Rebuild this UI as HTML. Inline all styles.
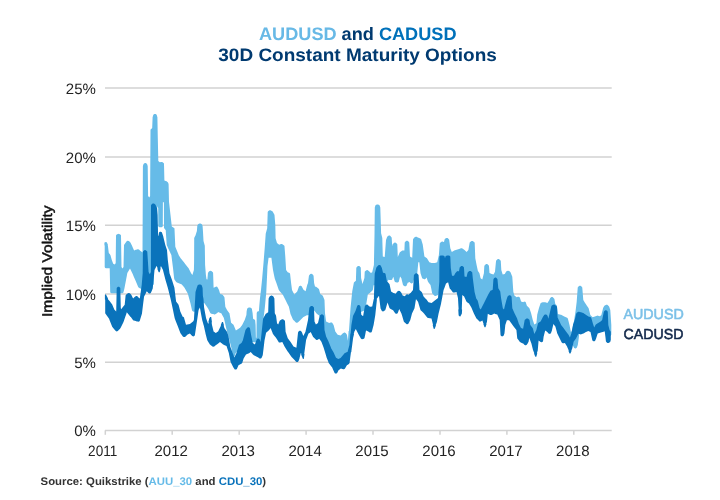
<!DOCTYPE html>
<html><head><meta charset="utf-8"><title>AUDUSD and CADUSD</title>
<style>
html,body{margin:0;padding:0;background:#fff;}
body{width:720px;height:500px;overflow:hidden;font-family:"Liberation Sans",sans-serif;}
svg{display:block;font-family:"Liberation Sans",sans-serif;will-change:transform;}
text{text-rendering:geometricPrecision;}
.g line{stroke:#d2d2d2;stroke-width:1.5;}
.ax{font-size:15px;fill:#222;}
.t{font-size:18px;font-weight:bold;}
.s{font-size:11px;font-weight:bold;fill:#333;}
.l{font-size:14.5px;font-weight:normal;stroke-width:0.55;stroke-linejoin:round;}
polygon{stroke-linejoin:round;stroke-width:0.7;}
</style></head><body>
<svg width="720" height="500" viewBox="0 0 720 500">
<rect width="720" height="500" fill="#fff"/>
<g class="g"><line x1="105" x2="611.7" y1="430.4" y2="430.4"/><line x1="105" x2="611.7" y1="362.3" y2="362.3"/><line x1="105" x2="611.7" y1="293.9" y2="293.9"/><line x1="105" x2="611.7" y1="225.3" y2="225.3"/><line x1="105" x2="611.7" y1="157.0" y2="157.0"/><line x1="105" x2="611.7" y1="87.9" y2="87.9"/><line x1="105.3" x2="105.3" y1="430.4" y2="434.8"/><line x1="172.2" x2="172.2" y1="430.4" y2="434.8"/><line x1="239.2" x2="239.2" y1="430.4" y2="434.8"/><line x1="306.1" x2="306.1" y1="430.4" y2="434.8"/><line x1="373.0" x2="373.0" y1="430.4" y2="434.8"/><line x1="440.0" x2="440.0" y1="430.4" y2="434.8"/><line x1="506.9" x2="506.9" y1="430.4" y2="434.8"/><line x1="573.8" x2="573.8" y1="430.4" y2="434.8"/></g>
<g class="ax"><text x="95.9" y="436.2" text-anchor="end">0%</text><text x="95.9" y="368.1" text-anchor="end">5%</text><text x="95.9" y="299.7" text-anchor="end">10%</text><text x="95.9" y="231.1" text-anchor="end">15%</text><text x="95.9" y="162.8" text-anchor="end">20%</text><text x="95.9" y="93.7" text-anchor="end">25%</text><text x="88.1" y="456.3" textLength="29.2" lengthAdjust="spacingAndGlyphs">2011</text><text x="171.2" y="456.3" text-anchor="middle">2012</text><text x="238.2" y="456.3" text-anchor="middle">2013</text><text x="305.1" y="456.3" text-anchor="middle">2014</text><text x="372.0" y="456.3" text-anchor="middle">2015</text><text x="439.0" y="456.3" text-anchor="middle">2016</text><text x="505.9" y="456.3" text-anchor="middle">2017</text><text x="572.8" y="456.3" text-anchor="middle">2018</text></g>
<text class="t" x="259.0" y="39.8" textLength="197.5" lengthAdjust="spacingAndGlyphs"><tspan fill="#68b9e6">AUDUSD</tspan><tspan fill="#003a70"> and </tspan><tspan fill="#0071ba">CADUSD</tspan></text>
<text class="t" x="218.3" y="61.3" textLength="278.5" lengthAdjust="spacingAndGlyphs" fill="#003a70">30D Constant Maturity Options</text>
<text style="font-weight:normal;font-size:14px;fill:#111;stroke:#111;stroke-width:0.5;stroke-linejoin:round" transform="translate(51.8,261.2) rotate(-90)" text-anchor="middle" textLength="111.5" lengthAdjust="spacingAndGlyphs">Implied Volatility</text>
<path fill="#66bbe8" fill-rule="evenodd" d="M104.8 245.5 L104.7 245.5 L104.7 245.8 L104.7 245.9 L104.7 266.7 L104.7 266.7 L104.7 267.1 L104.8 267.2 L104.9 267.5 L104.9 267.5 L105.1 267.8 L105.2 267.9 L105.5 268.1 L105.5 268.1 L105.8 268.2 L105.9 268.3 L106.3 268.3 L106.3 268.3 L109.7 268.3 L110.2 291.7 L110.2 291.8 L110.2 292.1 L110.2 292.2 L110.4 292.5 L110.4 292.6 L110.6 292.8 L110.7 292.9 L111.0 293.1 L111.0 293.1 L111.3 293.2 L111.4 293.3 L111.7 293.3 L111.8 293.3 L122.0 293.3 L122.0 293.3 L122.4 293.3 L122.4 293.2 L122.8 293.1 L122.8 293.1 L123.1 292.8 L123.2 292.8 L123.4 292.5 L123.4 292.4 L123.5 292.1 L123.5 292.1 L124.3 289.1 L124.3 289.1 L124.3 289.0 L124.3 289.0 L124.6 287.5 L127.3 273.2 L127.3 273.0 L127.8 272.3 L130.0 268.6 L132.7 274.1 L132.7 274.1 L133.7 276.5 L135.7 281.1 L135.7 281.1 L138.1 286.8 L138.1 286.8 L138.3 287.1 L138.3 287.2 L138.6 287.4 L138.7 287.5 L139.7 288.2 L139.7 288.2 L140.0 288.3 L140.0 288.3 L141.4 288.9 L142.7 289.4 L143.1 289.6 L143.7 289.8 L144.1 290.0 L144.2 290.0 L144.5 290.1 L144.6 290.1 L145.0 290.1 L145.1 290.1 L145.4 289.9 L145.5 289.9 L145.8 289.7 L145.8 289.7 L147.0 288.6 L147.6 288.0 L148.0 287.7 L149.5 286.3 L150.6 285.3 L150.6 285.3 L152.2 285.3 L152.3 285.3 L152.6 285.3 L152.7 285.2 L153.0 285.1 L153.0 285.1 L153.3 284.9 L153.4 284.8 L153.6 284.5 L153.6 284.5 L153.7 284.2 L153.8 284.1 L153.8 283.8 L153.8 283.7 L154.3 240.3 L155.2 240.3 L155.3 240.3 L155.6 240.3 L155.7 240.2 L156.0 240.1 L156.0 240.1 L156.3 239.9 L156.4 239.8 L156.6 239.5 L156.6 239.5 L156.7 239.2 L156.8 239.1 L156.8 238.8 L156.8 238.7 L157.3 206.2 L158.2 208.1 L158.2 208.1 L158.2 208.1 L158.3 225.7 L158.3 225.7 L158.3 226.1 L158.4 226.2 L158.5 226.5 L158.5 226.5 L158.7 226.8 L158.8 226.9 L159.1 227.1 L159.1 227.1 L159.4 227.2 L159.5 227.3 L159.9 227.3 L159.9 227.3 L161.2 227.3 L161.2 227.3 L161.6 227.3 L161.7 227.2 L162.0 227.1 L162.0 227.1 L162.3 226.9 L162.4 226.8 L162.6 226.5 L162.6 226.5 L162.7 226.2 L162.8 226.1 L162.8 225.7 L162.8 225.7 L162.9 202.3 L163.9 202.3 L164.0 227.5 L164.0 227.6 L164.0 227.9 L164.1 227.9 L164.2 228.2 L164.2 228.3 L164.4 228.5 L164.4 228.6 L165.6 230.0 L165.7 230.1 L165.7 230.1 L165.7 230.1 L166.7 244.8 L166.7 244.8 L166.8 245.3 L166.8 245.3 L167.4 246.6 L168.0 247.9 L168.4 248.7 L169.7 251.5 L171.2 254.7 L171.4 255.0 L171.4 255.2 L173.0 268.0 L173.0 268.0 L173.9 276.3 L174.2 278.7 L174.2 278.7 L174.3 279.1 L174.3 279.1 L174.4 279.4 L174.5 279.5 L174.8 279.9 L176.2 281.9 L176.3 281.9 L176.5 282.2 L176.6 282.2 L176.9 282.4 L176.9 282.4 L178.2 282.9 L180.7 283.9 L181.5 284.2 L181.5 284.3 L181.5 284.3 L183.1 286.1 L184.7 288.1 L184.8 288.2 L188.0 294.1 L188.0 294.2 L190.5 303.4 L190.5 303.4 L192.0 310.3 L192.1 310.3 L192.2 310.7 L192.2 310.7 L192.4 311.0 L192.5 311.1 L192.7 311.3 L192.8 311.3 L193.1 311.5 L193.2 311.5 L193.8 311.7 L193.9 311.7 L194.2 311.7 L194.2 311.7 L194.5 311.7 L194.6 311.7 L194.9 311.6 L195.0 311.6 L195.2 311.4 L195.3 311.4 L195.5 311.1 L195.6 311.1 L195.7 310.8 L195.7 310.8 L196.3 309.5 L197.5 306.7 L197.9 305.7 L198.8 303.6 L200.1 300.4 L201.3 301.2 L202.1 301.8 L202.5 302.0 L203.0 302.4 L204.3 303.2 L204.6 303.4 L204.8 303.5 L204.8 303.5 L204.8 303.5 L205.3 304.4 L205.9 305.3 L207.9 308.3 L208.0 308.4 L208.1 308.5 L210.3 312.9 L210.3 312.9 L210.5 313.2 L210.6 313.3 L210.9 313.5 L210.9 313.6 L211.3 313.7 L211.3 313.7 L212.7 314.0 L213.2 314.1 L214.4 314.4 L214.4 314.4 L214.8 314.4 L214.9 314.4 L215.2 314.3 L215.3 314.3 L215.6 314.1 L215.7 314.1 L216.9 313.2 L218.3 312.0 L218.6 312.2 L219.9 312.8 L221.5 313.5 L221.5 313.5 L221.5 313.6 L222.2 314.9 L223.9 318.0 L223.9 318.2 L224.7 321.6 L226.4 329.0 L226.4 329.0 L226.4 329.1 L226.4 329.1 L228.9 338.1 L228.9 338.1 L231.4 348.0 L231.4 348.1 L232.4 353.4 L232.4 353.4 L232.5 353.8 L232.5 353.8 L232.5 353.8 L232.4 353.8 L232.4 353.8 L232.4 353.8 L232.4 353.9 L232.3 353.9 L232.3 353.9 L232.3 353.9 L232.3 354.0 L232.3 354.0 L232.2 354.0 L232.2 354.0 L232.2 354.1 L232.2 354.1 L232.2 354.1 L232.2 354.2 L232.2 354.2 L232.2 354.2 L232.2 354.2 L232.2 354.3 L232.2 354.3 L232.2 354.3 L232.2 354.4 L232.2 354.4 L232.2 354.4 L232.7 357.1 L232.7 357.1 L232.7 357.2 L232.7 357.2 L232.7 357.2 L232.7 357.3 L232.7 357.3 L232.7 357.3 L232.7 357.3 L232.8 357.4 L232.8 357.4 L232.8 357.4 L232.8 357.4 L232.8 357.5 L232.9 357.5 L232.9 357.5 L232.9 357.5 L232.9 357.5 L233.0 357.6 L233.0 357.6 L233.0 357.6 L233.1 357.6 L233.1 357.6 L233.1 357.6 L233.2 357.6 L233.2 357.6 L233.2 357.6 L233.2 357.6 L233.3 357.6 L233.3 357.6 L233.3 357.6 L233.4 357.6 L233.4 357.6 L233.4 357.6 L233.5 357.6 L233.5 357.6 L233.5 357.6 L233.6 357.6 L233.6 357.6 L233.6 357.6 L233.6 357.6 L233.7 357.5 L233.7 357.5 L233.7 357.5 L233.7 357.5 L233.8 357.5 L233.8 357.4 L233.8 357.4 L233.8 357.4 L233.8 357.4 L233.9 357.3 L233.9 357.3 L235.2 354.9 L235.2 354.9 L235.2 354.9 L235.2 354.8 L235.2 354.8 L235.2 354.8 L235.2 354.7 L235.2 354.7 L235.2 354.7 L235.2 354.6 L235.2 354.6 L235.2 354.6 L235.2 354.6 L235.2 354.5 L235.2 354.5 L235.2 354.5 L235.2 354.4 L235.2 354.4 L235.2 354.4 L235.2 354.3 L235.2 354.3 L235.2 354.3 L235.1 354.3 L235.1 354.2 L235.1 354.2 L235.1 354.2 L235.1 354.2 L235.3 353.9 L235.3 353.9 L236.1 352.5 L236.2 352.2 L236.2 352.2 L236.2 352.2 L240.2 349.1 L245.1 345.3 L245.2 345.2 L246.8 344.5 L247.0 344.5 L247.6 344.2 L249.6 343.3 L251.6 342.5 L252.0 342.3 L252.1 342.3 L252.1 342.3 L260.8 342.3 L260.8 342.3 L261.1 342.3 L261.2 342.2 L261.5 342.1 L261.6 342.1 L261.8 341.9 L261.9 341.8 L262.1 341.6 L262.1 341.5 L262.3 341.2 L262.3 341.1 L262.4 340.8 L262.4 340.8 L263.3 320.0 L263.3 320.0 L264.8 308.1 L264.8 308.1 L264.8 308.0 L264.8 308.0 L265.3 302.7 L266.3 292.1 L266.3 292.1 L266.3 292.0 L266.3 292.0 L267.1 275.0 L267.1 275.0 L267.1 275.0 L267.1 275.0 L267.5 266.0 L267.5 266.0 L267.8 263.7 L268.3 259.9 L268.6 257.8 L271.4 257.8 L273.0 270.0 L273.0 270.0 L273.0 270.1 L273.0 270.1 L273.9 274.5 L274.7 278.3 L274.7 278.3 L274.7 278.5 L274.8 278.5 L275.0 279.2 L276.4 283.1 L278.8 289.9 L278.9 289.9 L279.1 290.3 L279.1 290.4 L281.5 293.2 L283.0 295.1 L283.1 295.2 L285.5 300.1 L285.5 300.1 L285.5 300.1 L285.5 300.1 L287.2 303.5 L288.9 306.7 L288.9 306.9 L289.4 309.0 L290.5 313.9 L290.5 314.0 L290.6 314.2 L290.6 314.2 L291.4 316.1 L292.9 319.4 L293.0 319.5 L293.2 319.8 L293.2 319.9 L294.0 320.6 L295.6 322.3 L295.6 322.3 L295.9 322.5 L296.0 322.6 L296.3 322.7 L296.3 322.7 L296.7 322.8 L296.7 322.8 L297.1 322.8 L297.2 322.7 L297.5 322.6 L297.5 322.6 L297.8 322.4 L297.8 322.4 L299.4 320.9 L300.2 320.2 L300.2 320.2 L300.2 320.2 L300.2 320.2 L303.4 317.0 L303.5 316.9 L306.8 315.3 L306.8 315.3 L306.8 315.3 L310.3 315.3 L310.3 315.3 L310.6 315.3 L310.7 315.2 L311.0 315.1 L311.1 315.1 L311.4 314.9 L311.4 314.8 L311.6 314.6 L311.6 314.6 L313.6 311.6 L314.1 310.8 L314.2 310.5 L314.5 310.8 L316.3 313.3 L316.4 313.3 L316.7 313.6 L316.7 313.7 L318.5 314.9 L319.0 315.2 L319.0 315.2 L319.0 315.2 L319.7 316.6 L321.7 320.0 L321.7 320.2 L322.2 323.0 L323.9 333.0 L323.9 333.0 L323.9 333.2 L323.9 333.2 L324.4 334.7 L325.5 338.2 L326.4 341.0 L326.4 341.0 L326.4 341.2 L326.4 341.2 L331.4 353.1 L331.4 353.1 L331.5 353.2 L331.5 353.2 L333.0 356.1 L334.6 359.0 L334.7 359.0 L334.9 359.3 L335.0 359.4 L337.3 361.5 L337.6 361.7 L337.6 361.8 L337.9 361.9 L337.9 362.0 L338.2 362.1 L338.3 362.1 L338.6 362.1 L338.7 362.1 L339.0 362.1 L339.1 362.1 L340.9 361.6 L341.4 361.4 L341.4 361.4 L341.8 361.2 L341.9 361.2 L342.2 360.9 L342.2 360.9 L343.5 359.3 L345.2 357.3 L345.3 357.2 L346.9 355.9 L347.4 355.5 L347.4 355.4 L347.7 355.2 L347.7 355.1 L347.9 354.8 L347.9 354.7 L348.6 352.7 L349.4 350.2 L349.5 350.2 L349.5 349.9 L349.5 349.9 L350.0 346.5 L350.0 346.5 L350.0 346.1 L350.0 346.1 L350.0 346.1 L350.1 346.1 L350.1 346.1 L350.1 346.1 L350.1 346.0 L350.2 346.0 L350.2 346.0 L350.2 346.0 L350.2 346.0 L350.3 346.0 L350.3 345.9 L350.3 345.9 L350.3 345.9 L350.4 345.9 L350.4 345.8 L350.4 345.8 L350.4 345.8 L350.4 345.8 L350.4 345.7 L350.4 345.7 L350.5 345.7 L350.5 345.6 L350.5 345.6 L350.5 345.6 L350.5 345.6 L351.4 338.7 L352.4 331.7 L352.4 331.7 L352.4 331.7 L352.4 331.7 L352.4 331.6 L352.4 331.6 L352.4 331.6 L352.4 331.5 L352.4 331.5 L352.4 331.5 L352.4 331.4 L352.4 331.4 L352.4 331.4 L352.3 331.4 L352.3 331.3 L352.3 331.3 L352.3 331.3 L352.3 331.2 L352.2 331.2 L352.2 331.2 L352.2 331.2 L352.2 331.2 L352.2 331.1 L352.1 331.1 L352.1 331.1 L352.1 331.1 L352.1 331.1 L352.2 330.7 L352.2 330.7 L352.3 330.1 L352.3 330.0 L356.3 318.2 L356.3 318.1 L356.4 317.9 L358.9 314.2 L360.2 312.3 L360.2 312.2 L360.2 312.2 L360.6 312.1 L360.9 311.9 L362.6 311.3 L364.4 310.6 L364.5 310.5 L364.8 310.4 L364.8 310.3 L365.1 310.1 L365.1 310.0 L365.3 309.7 L365.3 309.7 L365.4 309.4 L365.4 309.3 L367.5 296.4 L367.8 294.4 L369.3 293.3 L370.1 292.8 L370.1 292.8 L370.3 292.6 L370.3 292.6 L372.4 290.5 L372.4 290.5 L372.7 290.1 L372.7 290.1 L372.9 289.7 L372.9 289.6 L373.6 285.3 L379.6 285.3 L379.7 285.3 L380.0 285.3 L380.1 285.2 L380.4 285.1 L380.5 285.1 L380.6 285.0 L381.0 284.8 L382.2 284.1 L382.7 283.8 L385.1 282.3 L385.1 282.3 L385.1 282.3 L386.0 282.3 L386.1 282.3 L386.4 282.3 L386.4 282.2 L386.7 282.1 L386.8 282.1 L387.0 281.9 L387.1 281.9 L387.3 281.7 L387.3 281.6 L387.7 281.1 L388.6 279.8 L389.5 280.0 L390.6 280.1 L390.7 280.1 L391.0 280.1 L391.1 280.1 L391.4 280.0 L391.5 280.0 L391.8 279.8 L391.9 279.8 L392.1 279.5 L392.2 279.5 L392.3 279.2 L392.4 279.1 L393.3 276.7 L394.5 281.1 L394.5 281.1 L394.7 281.4 L394.7 281.5 L394.9 281.7 L395.0 281.8 L395.2 282.0 L395.3 282.0 L395.6 282.2 L395.7 282.2 L397.0 282.5 L397.0 282.5 L397.4 282.5 L397.4 282.5 L397.8 282.5 L397.8 282.5 L398.1 282.3 L398.2 282.3 L398.5 282.1 L398.5 282.0 L398.7 281.7 L398.8 281.7 L398.9 281.4 L398.9 281.3 L400.1 276.5 L401.4 278.3 L401.4 278.5 L402.2 281.7 L402.9 284.6 L402.9 284.6 L403.0 284.9 L403.0 285.0 L403.2 285.2 L403.3 285.3 L403.5 285.5 L403.5 285.5 L404.3 286.0 L404.3 286.1 L404.6 286.2 L404.7 286.2 L405.0 286.3 L405.1 286.3 L405.4 286.3 L405.5 286.3 L405.8 286.2 L405.9 286.2 L406.2 286.0 L406.2 285.9 L406.5 285.7 L406.5 285.6 L406.7 285.4 L406.7 285.3 L407.3 283.8 L407.7 282.7 L409.1 282.3 L409.8 282.1 L409.8 282.1 L410.1 282.5 L410.1 282.6 L410.3 282.8 L410.3 282.9 L410.6 283.1 L410.7 283.1 L411.0 283.3 L411.0 283.3 L411.4 283.4 L411.4 283.4 L411.8 283.4 L411.8 283.4 L412.2 283.3 L412.2 283.2 L412.5 283.0 L412.6 283.0 L412.8 282.7 L412.8 282.7 L413.0 282.4 L413.0 282.4 L413.6 280.7 L414.4 278.6 L415.5 278.4 L415.5 278.4 L415.9 278.3 L416.0 278.3 L416.3 278.1 L416.3 278.1 L416.6 277.8 L416.6 277.8 L416.8 277.5 L416.8 277.4 L416.9 277.0 L416.9 277.0 L418.3 262.3 L419.3 262.3 L420.5 273.2 L420.5 273.2 L420.6 273.5 L420.6 273.5 L422.0 277.8 L422.0 277.8 L422.2 278.2 L422.3 278.3 L422.5 278.5 L422.6 278.6 L422.9 278.8 L423.0 278.8 L423.9 279.1 L424.0 279.2 L424.3 279.2 L424.4 279.2 L424.7 279.2 L424.8 279.2 L425.1 279.1 L425.2 279.1 L425.5 278.9 L425.6 278.8 L425.8 278.6 L425.8 278.5 L426.6 277.4 L427.9 281.6 L428.0 281.6 L428.2 282.0 L428.2 282.1 L428.9 283.0 L430.5 285.1 L430.5 285.1 L430.5 285.1 L431.4 289.3 L432.1 293.0 L432.1 293.0 L432.3 293.4 L432.3 293.5 L432.5 293.8 L432.6 293.8 L434.2 295.5 L434.3 295.5 L434.5 295.7 L434.6 295.7 L434.9 295.9 L435.0 295.9 L435.4 295.9 L435.5 295.9 L435.8 295.9 L435.8 295.8 L437.1 295.4 L437.1 295.4 L437.4 295.3 L437.5 295.2 L437.7 295.0 L437.8 295.0 L438.0 294.7 L438.0 294.7 L439.3 292.1 L439.4 292.0 L439.5 291.8 L439.5 291.7 L439.5 291.5 L439.5 291.5 L440.3 281.9 L440.3 281.7 L442.3 277.4 L443.2 275.3 L449.9 275.3 L451.4 277.1 L451.4 277.1 L451.4 277.2 L452.4 282.7 L452.5 282.8 L452.6 283.1 L452.6 283.2 L452.8 283.4 L452.8 283.5 L453.1 283.7 L453.2 283.8 L453.5 283.9 L453.5 283.9 L453.9 284.0 L453.9 284.0 L454.3 284.0 L454.4 284.0 L454.7 283.9 L454.8 283.8 L455.0 283.7 L455.1 283.6 L455.2 283.5 L455.2 283.5 L455.2 283.5 L455.2 283.5 L456.1 282.6 L456.7 282.7 L456.8 282.7 L457.7 284.3 L457.7 284.4 L458.3 288.6 L458.3 288.6 L458.4 288.9 L458.4 289.0 L458.4 289.0 L458.4 289.0 L458.3 289.0 L458.3 289.0 L458.3 289.0 L458.3 289.1 L458.2 289.1 L458.2 289.1 L458.2 289.1 L458.2 289.2 L458.2 289.2 L458.2 289.2 L458.1 289.3 L458.1 289.3 L458.1 289.3 L458.1 289.3 L458.1 289.4 L458.1 289.4 L458.1 289.4 L458.1 289.5 L458.1 289.5 L458.1 289.5 L458.1 289.6 L458.1 289.6 L458.1 289.6 L458.4 291.6 L458.4 291.6 L458.4 291.6 L458.4 291.6 L458.4 291.7 L458.4 291.7 L458.4 291.7 L458.4 291.8 L458.4 291.8 L458.4 291.8 L458.5 291.8 L458.5 291.9 L458.5 291.9 L458.5 291.9 L458.5 291.9 L458.6 292.0 L458.6 292.0 L458.6 292.0 L458.6 292.0 L458.7 292.0 L458.7 292.0 L458.7 292.1 L458.8 292.1 L458.8 292.1 L458.8 292.1 L458.8 292.1 L458.9 292.1 L458.9 292.1 L459.1 292.1 L459.9 292.3 L459.9 292.3 L459.9 292.3 L460.0 292.3 L460.0 292.3 L460.0 292.3 L460.1 292.3 L460.1 292.3 L460.1 292.3 L460.2 292.3 L460.2 292.3 L460.2 292.3 L460.3 292.2 L460.3 292.2 L460.3 292.2 L460.3 292.2 L460.4 292.2 L460.4 292.2 L460.4 292.1 L460.5 292.1 L460.5 292.1 L460.5 292.1 L460.5 292.0 L460.5 292.0 L461.5 290.6 L461.5 290.6 L461.6 290.6 L461.6 290.6 L461.6 290.5 L461.6 290.5 L461.6 290.5 L461.6 290.4 L461.6 290.4 L461.6 290.4 L461.6 290.3 L461.6 290.3 L461.7 289.5 L461.7 289.5 L461.7 289.5 L461.7 289.5 L461.7 289.4 L461.7 289.4 L461.7 289.4 L461.7 289.3 L461.7 289.3 L461.7 289.3 L461.7 289.2 L461.7 289.2 L461.7 289.2 L461.6 289.2 L461.6 289.1 L461.6 289.1 L461.6 289.1 L461.6 289.1 L461.5 289.0 L461.5 289.0 L461.5 289.0 L461.5 289.0 L461.4 288.9 L461.4 288.9 L461.4 288.9 L461.4 288.9 L461.4 288.9 L461.5 288.6 L461.5 288.5 L462.0 283.6 L462.2 280.7 L462.7 281.1 L462.7 281.2 L462.7 281.2 L463.7 284.5 L463.7 284.5 L463.7 284.6 L463.7 284.6 L463.9 285.0 L464.6 287.2 L464.7 287.3 L464.9 287.7 L464.9 287.7 L465.3 288.3 L465.4 288.3 L465.6 288.5 L465.7 288.6 L466.0 288.7 L466.1 288.8 L466.4 288.9 L466.5 288.9 L466.8 288.8 L466.9 288.8 L467.3 288.7 L467.3 288.7 L467.6 288.5 L467.7 288.4 L467.9 288.2 L467.9 288.1 L468.2 287.8 L468.7 287.7 L468.9 287.7 L469.1 287.7 L469.8 288.0 L469.8 288.0 L469.8 288.0 L470.8 289.2 L470.8 289.2 L471.7 290.4 L471.7 290.5 L471.7 290.5 L471.9 291.4 L472.7 296.4 L472.7 296.4 L472.7 296.5 L472.7 296.5 L473.7 301.5 L473.7 301.5 L473.7 301.6 L473.7 301.6 L474.0 302.7 L474.7 305.0 L474.7 305.0 L474.7 305.1 L474.7 305.1 L475.7 307.7 L475.7 307.7 L475.8 308.0 L475.8 308.0 L476.1 308.4 L476.7 309.5 L476.7 309.5 L477.7 311.4 L477.7 311.4 L478.7 313.9 L478.7 313.9 L478.8 314.2 L478.8 314.2 L478.9 314.3 L479.2 314.7 L479.2 314.8 L479.5 315.0 L479.5 315.1 L479.8 315.2 L479.9 315.3 L480.2 315.4 L480.3 315.4 L480.7 315.4 L480.7 315.4 L481.1 315.3 L481.1 315.3 L481.4 315.1 L481.5 315.1 L481.8 314.8 L481.8 314.8 L482.2 314.3 L482.2 314.2 L482.2 314.2 L483.0 313.8 L483.7 314.1 L483.8 314.1 L484.1 314.2 L484.2 314.2 L484.5 314.1 L484.6 314.1 L484.9 314.0 L484.9 314.0 L485.2 313.8 L485.3 313.8 L485.5 313.5 L485.6 313.5 L485.7 313.2 L485.7 313.2 L486.3 311.9 L486.3 311.8 L486.3 311.7 L486.3 311.7 L487.0 309.4 L487.3 308.2 L488.3 304.8 L488.8 304.4 L489.1 304.2 L489.2 304.2 L489.3 304.1 L490.1 303.6 L490.2 303.6 L491.1 303.1 L491.2 303.1 L491.8 302.8 L492.1 302.7 L492.5 302.5 L492.5 302.5 L492.8 302.3 L492.8 302.3 L493.1 302.1 L493.1 302.0 L493.3 301.7 L493.3 301.7 L493.4 301.3 L493.4 301.3 L494.0 298.1 L494.3 296.3 L495.0 295.9 L495.2 295.9 L495.8 296.1 L495.9 296.2 L496.2 296.3 L496.7 296.7 L497.7 301.7 L497.7 301.7 L497.8 302.1 L497.8 302.1 L498.1 302.6 L498.7 304.0 L499.7 305.8 L499.7 306.0 L500.7 317.3 L500.7 317.3 L500.7 317.6 L500.7 317.6 L501.5 320.3 L501.5 320.3 L501.6 320.6 L501.7 320.7 L501.6 320.7 L501.6 320.7 L501.6 320.7 L501.6 320.8 L501.6 320.8 L501.5 320.8 L501.5 320.9 L501.5 320.9 L501.5 320.9 L501.5 320.9 L501.5 321.0 L501.5 321.0 L501.4 321.0 L501.4 321.1 L501.4 321.1 L501.4 321.1 L501.4 321.2 L501.4 321.2 L501.4 321.2 L501.4 321.3 L501.4 321.3 L501.4 321.3 L501.5 321.4 L501.5 321.4 L501.5 321.4 L501.5 321.4 L501.5 321.5 L501.5 321.5 L501.5 321.5 L501.5 321.5 L502.0 322.2 L502.5 322.9 L502.5 322.9 L502.5 322.9 L502.5 323.0 L502.5 323.0 L502.6 323.0 L502.6 323.0 L502.6 323.1 L502.6 323.1 L502.7 323.1 L502.7 323.1 L502.7 323.1 L502.8 323.1 L502.8 323.1 L502.8 323.2 L502.8 323.2 L502.9 323.2 L502.9 323.2 L502.9 323.2 L503.0 323.2 L503.0 323.2 L503.0 323.2 L503.1 323.2 L503.1 323.2 L503.1 323.2 L503.2 323.2 L503.2 323.2 L503.2 323.1 L503.3 323.1 L503.3 323.1 L503.3 323.1 L503.3 323.1 L503.4 323.1 L503.4 323.1 L504.4 322.3 L504.4 322.3 L504.4 322.3 L504.4 322.3 L504.5 322.2 L504.5 322.2 L504.5 322.2 L504.5 322.2 L504.5 322.1 L504.6 322.1 L504.6 322.1 L504.6 322.1 L504.6 322.0 L504.6 322.0 L504.6 322.0 L504.6 322.0 L504.6 321.9 L504.6 321.9 L504.8 321.1 L504.8 321.1 L504.8 321.1 L504.8 321.1 L504.8 321.0 L504.8 321.0 L504.8 321.0 L504.8 320.9 L504.8 320.9 L504.8 320.9 L504.7 320.8 L504.7 320.8 L504.7 320.8 L504.7 320.7 L504.7 320.7 L504.7 320.7 L504.7 320.7 L504.6 320.6 L504.6 320.6 L504.6 320.6 L504.6 320.6 L504.6 320.5 L504.5 320.5 L504.5 320.5 L504.5 320.5 L504.5 320.5 L504.5 320.5 L504.6 320.1 L504.6 320.1 L505.3 315.9 L505.3 315.9 L506.3 312.5 L506.3 312.5 L506.6 311.6 L507.2 309.8 L507.3 309.6 L508.2 308.5 L508.2 308.5 L508.2 308.5 L508.5 308.4 L509.0 308.1 L509.8 308.4 L509.8 308.4 L509.8 308.5 L510.1 308.8 L510.7 309.5 L510.7 309.5 L510.7 309.5 L511.7 315.8 L511.7 315.9 L511.8 316.3 L511.8 316.4 L513.7 319.8 L513.7 319.8 L513.7 319.8 L513.8 319.8 L513.9 320.1 L514.7 321.5 L514.7 321.5 L514.7 321.5 L514.7 321.5 L515.7 323.1 L515.7 323.2 L516.4 325.2 L516.7 326.2 L516.7 326.3 L517.7 330.6 L517.7 330.6 L517.8 330.9 L517.8 331.0 L518.7 332.6 L518.7 332.6 L518.8 332.7 L518.8 332.7 L518.9 333.0 L519.7 334.2 L519.7 334.3 L519.9 334.5 L519.9 334.5 L520.6 335.3 L520.6 335.3 L520.8 335.5 L520.9 335.5 L521.1 335.6 L521.1 335.7 L521.9 336.0 L521.9 336.0 L522.0 336.0 L522.3 336.1 L522.4 336.1 L522.7 336.1 L522.8 336.1 L523.1 336.0 L523.2 336.0 L523.5 335.8 L523.6 335.7 L523.8 335.5 L523.8 335.4 L524.2 335.0 L524.2 335.0 L524.3 334.7 L524.3 334.7 L525.2 332.8 L525.6 332.7 L525.6 332.7 L525.9 332.6 L526.0 332.6 L526.2 332.4 L526.3 332.4 L526.5 332.2 L526.5 332.2 L526.9 331.7 L527.1 331.4 L527.3 331.3 L527.8 331.0 L527.9 331.0 L528.1 330.8 L528.2 330.7 L528.4 330.5 L528.4 330.4 L528.9 329.6 L529.7 331.9 L529.7 331.9 L529.8 332.1 L529.8 332.1 L530.6 333.7 L530.7 334.0 L530.7 334.0 L531.7 336.2 L531.7 336.2 L532.2 337.9 L532.7 339.6 L533.5 342.5 L533.6 342.5 L533.7 342.8 L533.7 342.9 L533.9 343.1 L534.0 343.2 L534.2 343.4 L534.3 343.4 L534.6 343.6 L534.7 343.6 L535.0 343.6 L535.1 343.6 L535.4 343.6 L535.5 343.6 L535.8 343.5 L535.9 343.4 L536.1 343.2 L536.2 343.2 L536.4 342.9 L536.5 342.9 L536.6 342.6 L536.6 342.5 L537.0 341.4 L537.3 340.5 L537.3 340.4 L537.3 340.3 L537.3 340.2 L537.8 337.3 L538.3 334.3 L538.3 334.2 L539.2 332.0 L539.9 332.0 L539.9 332.0 L540.1 332.0 L540.1 332.0 L540.8 331.9 L540.8 331.9 L541.0 331.9 L541.1 331.8 L541.3 331.7 L541.4 331.7 L541.7 331.6 L541.7 331.5 L542.0 331.4 L542.0 331.3 L542.3 331.1 L542.3 331.0 L542.4 330.7 L542.5 330.7 L543.3 328.4 L543.3 328.4 L543.3 328.3 L543.3 328.3 L544.3 325.0 L544.3 325.0 L545.2 322.7 L545.8 323.0 L545.9 323.0 L546.7 323.7 L546.8 323.7 L546.8 323.7 L547.2 324.5 L547.2 324.6 L547.4 324.8 L547.4 324.9 L547.6 325.1 L547.7 325.2 L548.0 325.3 L548.1 325.3 L548.4 325.4 L548.5 325.4 L548.8 325.4 L548.9 325.4 L549.2 325.3 L549.3 325.3 L549.6 325.1 L549.6 325.1 L549.8 324.8 L549.9 324.8 L549.9 324.8 L550.1 324.5 L550.1 324.5 L550.3 324.0 L550.4 324.0 L550.6 323.0 L551.3 320.6 L551.3 320.5 L552.3 317.3 L552.3 317.3 L553.2 315.1 L553.9 314.9 L554.0 314.9 L554.7 315.6 L554.8 315.7 L555.7 316.9 L555.7 316.9 L555.7 317.0 L556.4 320.1 L556.7 321.8 L557.2 324.3 L557.7 326.6 L557.7 326.6 L557.8 326.9 L557.8 326.9 L558.7 328.9 L558.7 328.9 L558.7 328.9 L558.7 328.9 L559.7 330.9 L559.7 330.9 L559.7 331.0 L559.7 331.0 L560.6 332.6 L560.7 332.9 L560.7 332.9 L560.8 333.0 L560.8 333.0 L561.7 334.5 L561.7 334.5 L561.9 334.7 L561.9 334.7 L562.6 335.6 L562.7 335.6 L563.0 335.9 L563.1 335.9 L563.9 336.3 L564.0 336.4 L564.8 336.8 L564.8 336.8 L564.8 336.8 L565.7 338.2 L565.7 338.2 L565.8 338.2 L565.8 338.2 L566.7 339.7 L566.8 339.7 L567.7 341.4 L567.7 341.4 L568.4 342.9 L568.5 343.0 L568.6 343.2 L568.6 343.3 L568.6 343.3 L568.6 343.3 L568.6 343.3 L568.6 343.3 L568.6 343.4 L568.5 343.4 L568.5 343.4 L568.5 343.4 L568.5 343.5 L568.5 343.5 L568.5 343.5 L568.5 343.6 L568.5 343.6 L568.5 343.6 L568.5 343.7 L568.5 343.7 L568.5 343.7 L568.5 343.8 L568.5 343.8 L568.5 343.8 L568.5 343.9 L568.5 343.9 L568.5 343.9 L568.5 343.9 L568.5 344.0 L568.6 344.1 L569.4 345.9 L569.4 345.9 L569.4 346.0 L569.4 346.0 L569.5 346.0 L569.5 346.0 L569.5 346.1 L569.5 346.1 L569.5 346.1 L569.6 346.1 L569.6 346.2 L569.6 346.2 L569.6 346.2 L569.7 346.2 L569.7 346.2 L569.7 346.2 L569.8 346.3 L569.8 346.3 L569.8 346.3 L569.8 346.3 L569.9 346.3 L569.9 346.3 L569.9 346.3 L570.0 346.3 L570.0 346.3 L570.0 346.3 L570.1 346.3 L570.1 346.3 L570.1 346.3 L570.2 346.3 L570.2 346.3 L570.2 346.3 L570.3 346.2 L570.3 346.2 L570.3 346.2 L570.3 346.2 L570.4 346.2 L570.4 346.2 L570.4 346.1 L570.4 346.1 L570.5 346.1 L570.5 346.1 L570.5 346.1 L570.5 346.0 L570.5 346.0 L570.6 346.0 L570.6 346.0 L570.6 345.9 L570.6 345.9 L570.6 345.9 L571.4 343.9 L571.4 343.8 L571.4 343.8 L571.4 343.8 L571.4 343.7 L571.4 343.7 L571.4 343.7 L571.4 343.7 L571.4 343.6 L571.4 343.6 L571.4 343.6 L571.4 343.5 L571.4 343.5 L571.4 343.5 L571.4 343.4 L571.4 343.4 L571.4 343.4 L571.4 343.3 L571.3 343.3 L571.3 343.3 L571.3 343.3 L571.3 343.2 L571.3 343.2 L571.3 343.2 L571.2 343.2 L571.2 343.1 L571.2 343.1 L571.2 343.1 L571.4 342.8 L571.4 342.8 L571.9 341.2 L572.2 342.6 L572.7 344.9 L572.7 344.9 L572.8 345.3 L572.8 345.3 L573.9 347.5 L574.0 347.6 L574.1 347.9 L574.2 347.9 L574.4 348.1 L574.5 348.2 L574.8 348.3 L574.9 348.3 L575.2 348.4 L575.3 348.4 L575.6 348.4 L575.7 348.4 L576.0 348.3 L576.1 348.3 L576.3 348.1 L576.4 348.0 L576.6 347.8 L576.7 347.7 L576.8 347.5 L576.9 347.4 L577.7 345.3 L577.7 345.2 L577.8 344.9 L577.8 344.9 L578.8 338.1 L578.8 338.1 L578.8 338.0 L578.8 338.0 L580.3 323.5 L580.8 323.6 L580.8 323.6 L581.1 323.6 L581.2 323.6 L583.0 323.6 L583.0 323.6 L584.0 323.6 L584.0 323.6 L585.0 323.6 L585.0 323.6 L585.9 323.7 L586.0 323.7 L586.6 323.8 L587.0 323.8 L587.9 324.0 L588.0 324.0 L588.3 324.1 L588.9 324.3 L588.9 324.3 L589.8 324.6 L589.8 324.6 L589.8 324.6 L590.7 325.6 L590.7 325.6 L590.7 325.6 L591.7 329.6 L591.7 329.6 L591.7 329.7 L591.7 329.7 L592.7 332.7 L592.7 332.7 L592.8 333.0 L592.9 333.1 L593.1 333.3 L593.1 333.4 L593.4 333.6 L593.5 333.6 L593.8 333.7 L593.9 333.7 L594.3 333.8 L594.3 333.8 L594.7 333.7 L594.8 333.7 L595.1 333.5 L595.1 333.5 L595.4 333.2 L595.4 333.2 L595.6 332.9 L595.6 332.8 L596.3 331.4 L596.3 331.4 L597.2 329.7 L597.3 329.6 L598.2 328.6 L598.2 328.6 L598.2 328.6 L599.1 328.1 L600.1 327.6 L600.1 327.6 L600.2 327.6 L600.2 327.6 L601.1 327.1 L601.1 327.1 L601.2 327.1 L601.2 327.1 L601.8 326.7 L601.9 326.6 L601.9 326.6 L602.2 326.4 L602.2 326.3 L602.4 326.1 L602.4 326.1 L603.2 324.8 L603.2 324.8 L603.3 324.6 L603.3 324.5 L603.6 323.8 L604.2 322.2 L604.3 322.0 L604.8 321.4 L605.7 324.6 L605.7 324.7 L605.8 324.9 L605.8 324.9 L606.4 326.2 L606.7 326.7 L606.7 326.9 L607.7 333.8 L607.7 333.8 L607.8 334.3 L607.9 334.4 L608.3 335.2 L608.3 335.2 L608.5 335.5 L608.6 335.5 L608.9 335.7 L608.9 335.8 L609.2 335.9 L609.3 335.9 L609.7 336.0 L609.7 336.0 L610.1 335.9 L610.1 335.9 L610.5 335.8 L610.5 335.7 L610.8 335.5 L610.9 335.5 L611.1 335.2 L611.1 335.1 L611.2 334.8 L611.3 334.7 L611.3 334.4 L611.3 334.4 L611.3 325.0 L611.3 325.0 L611.3 324.9 L611.3 324.9 L610.3 310.2 L610.3 310.1 L610.2 309.8 L610.2 309.7 L609.1 306.6 L609.1 306.5 L608.9 306.2 L608.8 306.2 L608.6 305.9 L608.6 305.9 L607.6 305.0 L607.5 305.0 L607.3 304.8 L607.2 304.8 L606.9 304.7 L606.8 304.7 L606.5 304.7 L606.4 304.7 L606.1 304.7 L606.1 304.7 L605.8 304.9 L605.7 304.9 L604.8 305.4 L604.8 305.4 L604.5 305.6 L604.5 305.7 L604.3 306.0 L604.2 306.0 L603.1 308.1 L603.1 308.1 L603.0 308.4 L603.0 308.4 L601.4 314.8 L601.4 314.8 L601.4 314.9 L599.9 316.3 L598.0 315.7 L598.0 315.7 L597.5 315.6 L597.5 315.6 L597.0 315.7 L597.0 315.7 L594.9 316.4 L592.6 317.2 L590.3 314.9 L590.3 314.8 L590.3 314.8 L588.7 308.5 L588.7 308.4 L588.5 308.0 L588.5 308.0 L586.9 305.7 L585.3 303.2 L585.2 303.2 L583.3 299.9 L583.3 299.9 L583.3 299.9 L582.3 287.9 L582.3 287.9 L582.3 287.6 L582.3 287.5 L582.1 287.3 L582.1 287.2 L581.9 287.0 L581.9 287.0 L581.2 286.2 L581.1 286.1 L580.9 285.9 L580.8 285.9 L580.5 285.7 L580.4 285.7 L580.0 285.7 L580.0 285.7 L579.6 285.7 L579.5 285.7 L579.2 285.9 L579.1 285.9 L578.9 286.1 L578.8 286.2 L578.1 287.0 L578.1 287.0 L577.9 287.2 L577.9 287.3 L577.7 287.5 L577.7 287.6 L577.7 287.9 L577.7 287.9 L576.7 301.6 L576.7 301.7 L575.5 311.6 L575.5 311.6 L573.9 321.6 L573.9 321.6 L572.2 329.8 L572.2 330.0 L571.0 332.4 L569.5 325.0 L569.5 325.0 L569.5 324.9 L569.5 324.9 L567.9 318.8 L567.9 318.8 L567.8 318.5 L567.7 318.4 L567.5 318.1 L567.4 318.0 L567.1 317.8 L567.1 317.8 L564.3 316.4 L561.1 314.8 L561.1 314.8 L560.8 314.7 L560.8 314.7 L557.8 313.9 L557.0 306.3 L557.0 306.2 L556.9 305.9 L556.9 305.9 L556.8 305.6 L556.8 305.6 L556.6 305.3 L556.6 305.3 L555.3 304.0 L555.3 304.0 L555.3 304.0 L554.5 299.5 L554.5 299.4 L554.4 299.1 L554.4 299.0 L554.2 298.7 L554.2 298.7 L553.1 297.5 L553.1 297.5 L552.8 297.3 L552.8 297.2 L552.5 297.1 L552.4 297.0 L552.0 297.0 L551.9 297.0 L551.6 297.0 L551.5 297.0 L551.2 297.2 L551.1 297.2 L550.8 297.4 L550.8 297.4 L550.3 297.9 L550.3 298.0 L550.1 298.2 L550.1 298.2 L550.0 298.4 L550.0 298.5 L549.4 299.8 L549.4 299.9 L547.4 303.0 L545.3 302.3 L545.2 302.3 L544.8 302.2 L544.8 302.2 L542.8 302.2 L542.8 302.2 L542.5 302.2 L542.4 302.3 L542.1 302.4 L542.1 302.4 L541.2 302.8 L541.1 302.8 L540.9 303.0 L540.8 303.1 L540.6 303.3 L540.5 303.4 L540.4 303.7 L540.4 303.7 L538.9 308.2 L538.9 308.2 L538.9 308.3 L538.9 308.3 L537.2 314.8 L537.2 314.9 L537.2 315.0 L537.2 315.1 L536.4 323.2 L534.3 324.5 L532.8 319.9 L532.8 319.9 L531.1 313.3 L531.1 313.3 L531.1 313.2 L531.1 313.2 L529.5 308.5 L529.5 308.5 L529.4 308.2 L529.4 308.2 L529.2 307.9 L529.2 307.9 L526.9 305.7 L526.9 305.7 L526.9 305.7 L525.9 302.7 L525.9 302.7 L525.8 302.4 L525.8 302.3 L525.5 302.1 L525.5 302.0 L525.2 301.8 L525.1 301.8 L524.8 301.7 L524.8 301.7 L524.4 301.6 L524.4 301.6 L524.0 301.7 L524.0 301.7 L523.7 301.8 L523.6 301.9 L523.3 302.1 L523.3 302.1 L523.3 302.2 L521.1 301.4 L519.9 297.8 L519.8 297.8 L519.7 297.5 L519.7 297.4 L519.4 297.1 L519.4 297.1 L519.1 296.9 L519.0 296.9 L518.7 296.8 L518.6 296.7 L518.3 296.7 L518.2 296.7 L517.9 296.8 L517.8 296.8 L516.7 297.2 L514.4 295.6 L513.3 291.7 L513.3 291.6 L512.3 276.9 L512.3 276.8 L512.2 276.4 L512.2 276.4 L510.7 272.7 L510.7 272.7 L510.6 272.4 L510.5 272.3 L510.3 272.1 L510.3 272.1 L509.1 271.1 L509.1 271.1 L508.8 270.9 L508.7 270.9 L508.4 270.8 L508.3 270.8 L508.0 270.7 L507.9 270.8 L507.5 270.8 L507.5 270.9 L506.6 271.2 L506.6 271.2 L506.4 271.4 L506.3 271.4 L506.1 271.6 L506.0 271.7 L505.9 271.9 L505.9 271.9 L504.8 273.9 L502.7 274.6 L501.3 270.0 L501.3 269.9 L500.8 261.3 L500.8 261.3 L500.8 261.0 L500.7 260.9 L500.6 260.6 L500.6 260.5 L500.3 260.3 L500.3 260.3 L499.5 259.5 L499.4 259.4 L499.2 259.2 L499.1 259.2 L498.8 259.1 L498.7 259.1 L498.4 259.0 L498.3 259.0 L498.0 259.1 L497.9 259.1 L497.6 259.2 L497.5 259.3 L497.3 259.5 L497.2 259.5 L496.5 260.3 L496.4 260.3 L496.2 260.5 L496.2 260.6 L496.1 260.9 L496.1 260.9 L496.0 261.2 L496.0 261.3 L495.0 271.5 L495.0 271.7 L493.5 274.6 L491.8 273.9 L491.8 273.9 L491.7 273.9 L491.7 273.9 L489.5 273.1 L489.0 266.3 L489.0 266.2 L488.9 265.9 L488.9 265.9 L488.8 265.6 L488.8 265.6 L488.6 265.3 L488.6 265.3 L487.8 264.5 L487.8 264.5 L487.5 264.2 L487.5 264.2 L487.1 264.1 L487.1 264.0 L486.7 264.0 L486.6 264.0 L486.3 264.0 L486.2 264.1 L485.9 264.2 L485.8 264.2 L485.5 264.5 L485.5 264.5 L484.8 265.3 L484.7 265.3 L484.6 265.6 L484.5 265.6 L484.4 265.9 L484.4 265.9 L484.3 266.2 L484.3 266.3 L483.9 273.2 L483.9 273.3 L482.3 279.5 L480.6 278.2 L479.5 273.5 L479.5 273.4 L479.3 273.0 L479.3 273.0 L477.8 270.8 L477.8 270.6 L476.6 264.9 L475.3 258.3 L475.3 258.3 L474.7 243.1 L474.7 243.0 L474.6 242.7 L474.6 242.6 L474.4 242.3 L474.3 242.2 L474.1 241.9 L474.0 241.9 L473.1 241.2 L473.1 241.2 L472.8 241.0 L472.7 241.0 L472.4 240.9 L472.3 240.9 L472.0 240.9 L471.9 240.9 L471.6 241.0 L471.5 241.0 L471.2 241.2 L471.2 241.2 L470.2 242.0 L470.2 242.0 L470.0 242.2 L469.9 242.3 L469.7 242.5 L469.7 242.6 L469.6 242.9 L469.6 242.9 L468.4 249.8 L468.4 249.9 L468.4 249.9 L466.6 252.1 L464.5 249.9 L464.4 249.9 L464.2 249.7 L464.2 249.7 L462.4 248.4 L462.3 248.4 L462.0 248.2 L461.9 248.2 L461.5 248.2 L461.4 248.2 L461.0 248.2 L461.0 248.2 L459.1 248.9 L454.2 250.5 L454.2 250.5 L453.9 250.7 L453.9 250.7 L451.8 252.0 L450.3 248.3 L450.3 248.2 L449.2 240.1 L449.2 240.0 L449.1 239.6 L449.0 239.5 L448.8 239.2 L448.7 239.1 L448.0 238.4 L447.9 238.3 L447.7 238.1 L447.6 238.1 L447.2 238.0 L447.2 237.9 L446.8 237.9 L446.7 237.9 L446.4 238.0 L446.3 238.0 L446.0 238.2 L445.9 238.2 L445.3 238.6 L445.2 238.7 L445.0 238.9 L444.9 238.9 L444.7 239.2 L444.7 239.2 L444.6 239.5 L444.6 239.6 L444.0 242.1 L442.8 241.7 L442.8 241.6 L442.4 241.6 L442.4 241.6 L442.0 241.6 L441.9 241.6 L441.6 241.7 L441.5 241.7 L441.3 241.9 L441.2 241.9 L440.2 242.7 L440.2 242.8 L440.0 243.0 L439.9 243.1 L439.8 243.4 L439.7 243.5 L439.7 243.8 L439.7 243.9 L438.9 254.9 L438.9 255.0 L437.2 262.3 L435.0 263.0 L434.9 263.0 L431.8 263.0 L431.6 263.0 L429.4 262.3 L427.1 258.4 L427.1 258.4 L426.9 258.2 L426.8 258.1 L426.6 257.9 L426.6 257.9 L424.4 256.5 L422.8 245.0 L422.8 245.0 L422.8 244.9 L422.8 244.8 L421.3 239.7 L421.3 239.6 L421.1 239.3 L421.1 239.2 L420.8 238.9 L420.8 238.9 L420.5 238.7 L420.4 238.6 L418.5 237.7 L418.5 237.7 L416.8 236.9 L416.8 236.8 L416.5 236.7 L416.4 236.7 L416.1 236.7 L416.0 236.7 L415.7 236.7 L415.6 236.7 L415.3 236.9 L415.2 236.9 L415.0 237.1 L414.9 237.1 L413.5 238.6 L413.5 238.6 L413.3 238.9 L413.2 238.9 L413.1 239.2 L413.1 239.3 L413.0 239.6 L413.0 239.7 L412.2 257.8 L410.0 256.5 L409.3 243.0 L409.3 242.9 L409.3 242.6 L409.2 242.6 L409.1 242.3 L409.1 242.2 L408.9 242.0 L408.9 241.9 L408.2 241.2 L408.1 241.1 L407.9 240.9 L407.8 240.9 L407.5 240.7 L407.4 240.7 L407.0 240.7 L407.0 240.7 L406.6 240.7 L406.5 240.7 L406.2 240.9 L406.1 240.9 L405.9 241.1 L405.8 241.2 L405.1 241.9 L405.1 242.0 L404.9 242.2 L404.9 242.3 L404.8 242.6 L404.7 242.6 L404.7 242.9 L404.7 243.0 L404.4 250.5 L402.9 250.5 L402.8 250.5 L402.5 250.6 L402.4 250.6 L402.0 250.8 L402.0 250.8 L400.2 252.0 L400.1 252.1 L399.8 252.3 L399.8 252.4 L399.6 252.7 L399.6 252.7 L397.8 257.0 L397.3 244.7 L397.3 244.7 L397.3 244.3 L397.2 244.3 L397.1 243.9 L397.0 243.9 L396.8 243.6 L396.7 243.6 L396.0 243.0 L396.0 242.9 L395.7 242.7 L395.6 242.7 L395.3 242.6 L395.2 242.6 L394.8 242.6 L394.7 242.6 L394.4 242.7 L394.3 242.7 L394.0 242.9 L394.0 243.0 L393.1 243.7 L393.1 243.7 L392.8 244.0 L392.8 244.1 L392.6 244.5 L392.6 244.5 L392.2 246.3 L391.7 237.9 L391.7 237.9 L391.6 237.6 L391.6 237.6 L391.5 237.3 L391.4 237.2 L391.3 237.0 L391.2 237.0 L390.4 236.1 L390.4 236.0 L390.1 235.8 L390.1 235.8 L389.7 235.6 L389.7 235.6 L389.3 235.6 L389.2 235.6 L388.9 235.6 L388.8 235.6 L388.5 235.8 L388.4 235.8 L387.8 236.2 L387.7 236.2 L387.5 236.4 L387.4 236.4 L387.2 236.7 L387.2 236.7 L387.1 237.0 L387.1 237.0 L386.1 239.7 L386.1 239.8 L386.0 240.1 L386.0 240.1 L384.7 257.1 L382.8 256.4 L382.3 238.5 L382.3 238.4 L382.3 238.2 L382.3 238.1 L381.1 233.3 L381.1 233.2 L380.7 220.0 L380.7 220.0 L380.7 220.0 L380.7 220.0 L380.3 207.7 L380.3 207.6 L380.2 207.3 L380.2 207.2 L379.7 205.7 L379.7 205.7 L379.5 205.4 L379.5 205.3 L379.3 205.1 L379.2 205.0 L379.0 204.9 L378.9 204.8 L378.7 204.7 L378.6 204.7 L378.0 204.5 L377.9 204.5 L377.5 204.4 L377.5 204.4 L377.1 204.5 L377.0 204.5 L376.4 204.7 L376.4 204.7 L376.1 204.8 L376.0 204.9 L375.8 205.0 L375.7 205.1 L375.5 205.3 L375.5 205.4 L375.4 205.7 L375.3 205.7 L374.9 207.2 L374.8 207.3 L374.8 207.6 L374.8 207.7 L374.5 235.0 L373.9 264.9 L373.9 265.0 L372.2 272.3 L370.9 273.0 L369.4 271.5 L369.4 271.5 L369.3 271.4 L369.3 271.4 L368.2 270.4 L368.1 270.4 L367.8 270.2 L367.8 270.2 L367.4 270.1 L367.3 270.1 L367.0 270.1 L366.9 270.1 L366.6 270.2 L366.5 270.2 L366.2 270.4 L366.2 270.4 L365.3 271.1 L365.3 271.1 L365.0 271.4 L364.9 271.4 L364.8 271.8 L364.7 271.8 L364.7 272.2 L364.7 272.2 L364.4 277.9 L364.4 278.0 L362.5 283.9 L361.1 278.0 L361.1 277.9 L360.8 268.0 L360.8 268.0 L360.8 267.7 L360.7 267.6 L360.6 267.3 L360.5 267.2 L360.3 266.9 L360.3 266.9 L359.7 266.4 L359.7 266.3 L359.4 266.1 L359.3 266.1 L358.9 266.0 L358.8 266.0 L358.5 266.0 L358.4 266.0 L358.0 266.1 L358.0 266.1 L357.6 266.3 L357.6 266.3 L356.9 266.9 L356.9 266.9 L356.6 267.2 L356.6 267.3 L356.4 267.6 L356.4 267.7 L356.4 268.0 L356.3 268.1 L355.9 280.8 L354.4 282.0 L354.4 282.0 L354.2 282.2 L354.1 282.3 L353.9 282.5 L353.9 282.6 L353.8 282.9 L353.8 282.9 L352.2 291.6 L352.2 291.6 L352.2 291.7 L352.2 291.7 L350.5 308.2 L350.5 308.3 L350.5 308.3 L350.5 308.3 L349.4 325.0 L349.0 330.4 L349.0 330.4 L349.0 330.7 L349.0 330.8 L349.0 330.8 L349.0 330.8 L349.0 330.8 L349.0 330.8 L348.9 330.8 L348.9 330.8 L348.9 330.9 L348.8 330.9 L348.8 330.9 L348.8 330.9 L348.8 331.0 L348.8 331.0 L348.7 331.0 L348.7 331.0 L348.7 331.1 L348.7 331.1 L348.7 331.1 L348.7 331.1 L348.6 331.2 L348.6 331.2 L348.6 331.2 L348.6 331.3 L348.6 331.3 L348.6 331.3 L348.6 331.3 L347.9 340.8 L347.0 335.2 L347.0 335.2 L347.0 334.9 L346.9 334.9 L346.8 334.6 L346.8 334.6 L345.9 333.2 L345.8 333.2 L345.6 332.9 L345.5 332.9 L345.2 332.7 L345.1 332.7 L344.8 332.6 L344.7 332.6 L344.3 332.6 L344.3 332.6 L343.9 332.7 L343.9 332.7 L343.4 332.9 L343.3 333.0 L343.0 333.2 L342.9 333.2 L340.7 335.5 L337.7 334.7 L335.3 331.6 L335.3 331.6 L335.3 331.5 L333.6 325.1 L333.6 325.1 L333.5 324.7 L333.4 324.7 L332.5 323.2 L332.5 323.1 L332.2 322.9 L332.2 322.8 L331.9 322.6 L331.8 322.6 L331.5 322.5 L331.4 322.5 L331.1 322.4 L331.0 322.4 L330.7 322.5 L330.7 322.5 L329.2 323.0 L326.1 321.5 L325.0 313.3 L325.0 313.3 L324.5 300.2 L324.5 300.2 L324.4 299.7 L324.4 299.7 L322.9 296.1 L322.9 296.0 L322.7 295.7 L322.6 295.6 L322.3 295.4 L322.3 295.3 L320.3 294.0 L319.1 289.5 L319.1 289.5 L318.9 289.1 L318.9 289.0 L318.6 288.7 L318.6 288.7 L317.1 287.4 L317.0 287.4 L316.7 287.2 L316.6 287.1 L315.0 286.5 L314.1 283.0 L314.1 282.9 L313.6 276.2 L313.6 276.1 L313.5 275.8 L313.5 275.7 L313.3 275.3 L313.3 275.3 L312.5 274.4 L312.5 274.3 L312.3 274.1 L312.2 274.0 L311.9 273.9 L311.8 273.9 L311.5 273.8 L311.5 273.8 L311.1 273.8 L311.1 273.8 L310.7 273.8 L310.7 273.9 L310.4 274.0 L310.3 274.1 L310.1 274.3 L310.1 274.3 L309.2 275.3 L309.2 275.3 L309.0 275.7 L309.0 275.7 L308.9 276.1 L308.9 276.1 L308.0 282.9 L308.0 283.0 L307.3 284.8 L307.2 284.8 L307.2 285.0 L307.2 285.0 L305.6 291.2 L303.5 289.8 L303.5 289.8 L303.5 289.8 L301.8 286.6 L301.8 286.6 L301.6 286.3 L301.6 286.2 L301.3 286.0 L301.2 286.0 L300.9 285.8 L300.9 285.8 L300.5 285.8 L300.5 285.8 L300.1 285.8 L300.1 285.8 L299.7 285.9 L299.7 285.9 L299.4 286.1 L299.4 286.2 L299.3 286.2 L299.2 286.3 L299.0 286.5 L299.0 286.6 L298.8 286.9 L298.8 286.9 L297.2 291.5 L297.2 291.5 L297.2 291.6 L294.3 294.5 L292.0 290.0 L292.0 289.8 L291.1 283.0 L291.1 283.0 L290.1 274.1 L290.1 274.0 L290.0 273.7 L290.0 273.6 L289.8 273.3 L289.7 273.2 L289.5 273.0 L289.4 272.9 L289.1 272.8 L289.0 272.7 L287.7 272.3 L287.7 272.2 L287.7 272.2 L286.1 269.9 L286.1 269.9 L286.1 269.9 L285.3 256.7 L285.3 256.7 L285.3 256.7 L285.3 256.7 L284.5 246.4 L284.5 246.4 L284.5 246.1 L284.5 246.0 L284.3 245.8 L284.3 245.7 L284.1 245.5 L284.1 245.4 L283.8 245.2 L283.8 245.2 L282.4 244.3 L282.3 244.3 L282.0 244.1 L281.9 244.1 L281.5 244.0 L281.4 244.0 L281.1 244.1 L281.0 244.1 L279.2 244.7 L277.0 243.1 L275.6 238.3 L275.6 238.2 L275.3 225.0 L275.3 225.0 L275.3 224.9 L275.3 224.9 L274.5 215.2 L274.5 215.2 L274.5 215.0 L274.5 214.9 L274.4 214.7 L274.3 214.6 L272.9 211.9 L272.9 211.9 L272.7 211.6 L272.6 211.5 L272.3 211.3 L272.3 211.2 L270.9 210.4 L270.8 210.4 L270.5 210.3 L270.4 210.3 L270.0 210.2 L270.0 210.2 L269.6 210.3 L269.5 210.3 L269.2 210.5 L269.2 210.5 L268.4 211.1 L268.3 211.1 L268.1 211.3 L268.1 211.4 L267.9 211.6 L267.9 211.7 L267.7 211.9 L267.7 212.0 L267.7 212.3 L267.7 212.3 L267.2 228.2 L267.2 228.3 L265.7 233.8 L265.7 233.8 L265.7 234.1 L265.7 234.1 L264.7 248.0 L263.5 263.0 L262.2 278.0 L262.2 278.0 L261.0 290.0 L261.0 290.0 L260.0 297.9 L260.0 297.9 L260.0 298.0 L260.0 298.0 L259.3 306.0 L259.3 306.0 L259.3 306.0 L259.3 306.0 L258.9 311.2 L258.5 311.2 L258.4 311.2 L258.1 311.2 L258.1 311.3 L257.8 311.4 L257.7 311.4 L257.5 311.6 L257.4 311.6 L257.2 311.8 L257.2 311.9 L257.0 312.2 L257.0 312.2 L256.8 312.7 L256.8 312.7 L256.7 313.2 L256.7 313.2 L256.5 337.7 L255.9 337.7 L255.6 325.0 L255.6 325.0 L255.6 324.9 L255.6 324.9 L255.2 320.7 L255.2 320.6 L255.1 320.3 L255.1 320.3 L254.9 320.0 L254.9 319.9 L254.7 319.7 L254.6 319.6 L254.3 319.4 L254.3 319.4 L253.1 318.8 L252.6 313.0 L252.6 313.0 L252.6 312.9 L252.6 312.9 L251.9 309.1 L251.9 309.1 L251.8 308.8 L251.8 308.7 L251.6 308.4 L251.6 308.4 L251.4 308.2 L251.3 308.1 L251.1 308.0 L251.0 307.9 L250.2 307.5 L250.2 307.5 L249.9 307.4 L249.8 307.4 L249.5 307.4 L249.5 307.4 L249.2 307.4 L249.1 307.4 L248.8 307.5 L248.8 307.5 L247.9 307.9 L247.9 308.0 L247.7 308.1 L247.6 308.2 L247.4 308.4 L247.4 308.4 L247.2 308.7 L247.2 308.8 L247.1 309.0 L247.1 309.1 L246.6 311.6 L246.6 311.6 L246.6 311.7 L246.6 311.8 L246.4 314.9 L246.4 315.0 L244.7 319.9 L244.7 319.9 L242.3 324.8 L242.2 324.9 L239.9 328.0 L239.7 328.1 L235.9 330.4 L233.7 325.2 L233.7 325.1 L233.5 324.9 L233.5 324.8 L233.3 324.6 L233.2 324.6 L231.1 322.8 L229.5 313.6 L229.5 313.5 L229.5 313.2 L229.4 313.2 L229.3 312.9 L229.2 312.9 L227.0 309.9 L226.9 309.8 L225.3 306.7 L225.3 306.5 L224.5 297.8 L224.5 297.8 L224.5 297.5 L224.4 297.4 L224.3 297.1 L224.3 297.1 L223.0 295.2 L223.0 295.2 L222.8 295.0 L222.7 294.9 L222.5 294.7 L222.5 294.7 L222.2 294.6 L222.2 294.6 L220.2 294.0 L219.0 290.0 L219.0 290.0 L218.9 289.8 L218.9 289.7 L217.7 287.4 L217.6 287.4 L217.4 287.1 L217.4 287.1 L217.1 286.8 L217.0 286.8 L216.7 286.7 L216.6 286.6 L216.2 286.6 L216.1 286.6 L215.8 286.7 L215.7 286.7 L215.4 286.9 L215.3 286.9 L214.9 287.2 L214.8 287.3 L213.6 287.8 L213.1 273.1 L213.1 273.1 L213.0 272.7 L213.0 272.6 L212.8 272.3 L212.8 272.2 L212.5 271.9 L212.5 271.9 L211.4 271.1 L211.4 271.1 L211.1 270.9 L211.0 270.9 L210.7 270.8 L210.7 270.8 L210.3 270.8 L210.3 270.8 L210.0 270.9 L209.9 270.9 L209.6 271.1 L209.6 271.1 L209.2 271.3 L209.2 271.4 L208.9 271.6 L208.8 271.7 L208.2 272.5 L208.2 272.5 L208.0 272.9 L208.0 273.0 L207.9 273.3 L207.9 273.4 L207.4 279.6 L206.5 279.3 L205.9 275.0 L205.9 275.0 L205.1 265.0 L205.1 265.0 L204.8 246.2 L204.8 246.1 L204.8 245.8 L204.8 245.8 L203.5 241.0 L203.5 240.9 L203.0 232.0 L203.0 232.0 L203.0 232.0 L203.0 232.0 L202.6 226.2 L202.6 226.2 L202.5 225.7 L202.5 225.7 L202.0 224.6 L202.0 224.6 L201.8 224.3 L201.7 224.2 L201.4 224.0 L201.4 223.9 L201.0 223.8 L201.0 223.7 L200.4 223.6 L200.4 223.6 L200.0 223.5 L200.0 223.5 L199.6 223.6 L199.6 223.6 L198.9 223.8 L198.9 223.8 L198.6 223.9 L198.5 223.9 L198.3 224.1 L198.2 224.2 L198.0 224.4 L198.0 224.4 L197.6 225.0 L197.5 225.1 L197.4 225.4 L197.4 225.5 L197.3 225.8 L197.3 225.8 L196.9 230.9 L196.9 231.0 L195.7 234.8 L195.7 234.9 L194.4 237.6 L194.4 237.6 L194.3 237.9 L194.2 238.0 L194.2 238.3 L194.2 238.3 L194.1 262.0 L194.1 262.0 L193.9 269.9 L193.9 270.0 L192.4 275.1 L191.1 273.2 L191.0 273.1 L188.6 268.3 L188.6 268.3 L188.5 268.0 L188.4 268.0 L185.2 264.0 L185.2 264.0 L183.6 261.8 L183.5 261.8 L183.5 261.8 L183.5 261.8 L181.1 258.8 L181.0 258.8 L178.6 254.9 L178.6 254.8 L175.3 246.7 L175.3 246.6 L174.5 229.0 L174.5 229.0 L174.5 228.6 L174.5 228.6 L174.3 228.3 L174.3 228.2 L174.1 228.0 L174.0 227.9 L173.8 227.7 L173.7 227.7 L171.8 226.5 L170.3 213.3 L169.0 201.7 L169.0 201.7 L168.6 184.2 L168.6 184.2 L168.5 183.7 L168.5 183.7 L168.1 182.8 L168.1 182.7 L167.9 182.4 L167.8 182.3 L167.5 182.0 L167.5 182.0 L166.1 181.1 L166.1 181.1 L165.7 181.0 L165.7 181.0 L164.4 180.6 L164.0 164.0 L164.0 164.0 L164.0 163.7 L163.9 163.6 L163.8 163.3 L163.8 163.2 L163.6 163.0 L163.5 162.9 L163.2 162.7 L163.2 162.7 L162.2 162.1 L162.2 162.1 L161.8 162.0 L161.7 162.0 L161.3 162.0 L161.2 162.0 L159.8 162.2 L158.3 160.9 L157.8 138.0 L157.4 117.5 L157.4 117.4 L157.4 117.1 L157.3 117.1 L156.9 115.4 L156.9 115.4 L156.7 115.0 L156.7 114.9 L156.4 114.6 L156.4 114.6 L156.0 114.3 L156.0 114.3 L155.7 114.1 L155.6 114.1 L155.3 114.0 L155.2 114.0 L154.8 114.0 L154.7 114.0 L154.4 114.1 L154.3 114.1 L154.0 114.3 L154.0 114.3 L153.6 114.6 L153.6 114.6 L153.3 114.9 L153.3 115.0 L153.1 115.4 L153.1 115.4 L152.7 117.1 L152.6 117.1 L152.6 117.4 L152.6 117.4 L152.2 128.1 L151.2 128.9 L151.1 128.9 L150.9 129.1 L150.9 129.2 L150.7 129.4 L150.7 129.5 L150.6 129.8 L150.5 129.8 L150.5 130.1 L150.5 130.2 L150.1 195.9 L150.1 195.9 L150.1 195.9 L149.3 197.4 L148.1 195.9 L148.1 195.9 L148.1 195.9 L147.7 166.2 L147.7 166.1 L147.6 165.8 L147.6 165.7 L147.2 164.4 L147.2 164.4 L147.1 164.1 L147.0 164.0 L146.8 163.8 L146.8 163.7 L146.5 163.5 L146.5 163.5 L146.1 163.3 L146.0 163.2 L145.7 163.1 L145.7 163.1 L145.3 163.1 L145.3 163.1 L144.9 163.1 L144.9 163.1 L144.6 163.2 L144.5 163.3 L144.1 163.5 L144.1 163.5 L143.8 163.7 L143.8 163.8 L143.6 164.0 L143.5 164.1 L143.4 164.4 L143.4 164.4 L143.0 165.7 L143.0 165.8 L142.9 166.1 L142.9 166.2 L142.5 252.4 L141.7 251.8 L141.7 251.8 L141.6 251.7 L141.6 251.7 L140.2 250.8 L140.2 250.7 L139.2 249.8 L139.2 249.8 L138.9 249.6 L138.9 249.5 L138.6 249.4 L138.5 249.4 L138.2 249.3 L138.1 249.3 L137.8 249.3 L137.8 249.3 L136.1 249.7 L136.1 249.7 L135.7 249.8 L135.7 249.8 L134.1 250.6 L132.3 246.4 L132.3 246.4 L132.3 246.3 L132.3 246.3 L130.4 242.6 L130.4 242.6 L130.2 242.4 L130.2 242.3 L130.0 242.1 L130.0 242.1 L128.8 241.1 L128.7 241.1 L128.4 240.9 L128.4 240.9 L128.0 240.8 L127.9 240.8 L127.6 240.8 L127.5 240.8 L127.2 240.9 L127.1 240.9 L126.8 241.1 L126.7 241.2 L126.5 241.4 L126.5 241.4 L124.3 244.5 L124.3 244.5 L124.1 244.9 L124.1 245.0 L124.0 245.3 L124.0 245.4 L123.5 266.9 L123.5 266.9 L123.5 266.9 L122.5 268.4 L121.5 266.9 L121.5 266.9 L121.5 266.9 L121.0 235.8 L121.0 235.8 L121.0 235.4 L120.9 235.3 L120.8 235.0 L120.7 234.9 L120.5 234.7 L120.4 234.6 L120.1 234.4 L120.1 234.4 L119.2 234.0 L119.1 234.0 L118.8 233.9 L118.7 233.8 L118.3 233.8 L118.2 233.9 L117.9 234.0 L117.8 234.0 L116.9 234.4 L116.9 234.4 L116.6 234.6 L116.5 234.7 L116.3 234.9 L116.2 235.0 L116.1 235.3 L116.1 235.4 L116.0 235.8 L116.0 235.8 L115.7 262.9 L115.7 262.9 L115.7 262.9 L114.9 264.6 L113.2 263.8 L111.8 259.9 L111.8 259.9 L110.4 255.1 L110.3 255.1 L110.1 254.7 L110.1 254.6 L108.8 252.9 L108.8 252.9 L108.8 252.9 L107.9 245.7 L107.9 245.6 L107.8 245.3 L107.8 245.3 L107.6 245.0 L107.7 245.0 L107.7 245.0 L107.7 244.9 L107.7 244.9 L107.7 244.9 L107.8 244.9 L107.8 244.8 L107.8 244.8 L107.8 244.8 L107.8 244.8 L107.8 244.7 L107.8 244.7 L107.8 244.7 L107.8 244.6 L107.9 244.6 L107.9 244.6 L107.9 244.5 L107.9 244.5 L107.9 244.5 L107.9 244.4 L107.9 244.4 L107.8 244.4 L107.8 244.3 L107.8 244.3 L107.8 244.3 L107.8 244.3 L107.8 244.2 L107.8 244.2 L107.8 244.2 L106.6 242.2 L106.5 242.2 L106.5 242.1 L106.5 242.1 L106.5 242.1 L106.5 242.1 L106.4 242.0 L106.4 242.0 L106.4 242.0 L106.4 242.0 L106.3 241.9 L106.3 241.9 L106.3 241.9 L106.3 241.9 L106.2 241.9 L106.2 241.9 L106.2 241.9 L106.1 241.9 L106.1 241.9 L106.1 241.9 L106.0 241.9 L106.0 241.9 L106.0 241.9 L105.9 241.9 L105.9 241.9 L105.9 241.9 L105.8 241.9 L105.8 241.9 L105.8 241.9 L105.8 241.9 L105.7 241.9 L105.7 241.9 L104.7 242.4 L104.7 242.4 L104.7 242.4 L104.6 242.5 L104.6 242.5 L104.6 242.5 L104.6 242.5 L104.5 242.5 L104.5 242.6 L104.5 242.6 L104.5 242.6 L104.5 242.6 L104.4 242.7 L104.4 242.7 L104.4 242.7 L104.4 242.8 L104.4 242.8 L104.4 242.8 L104.4 242.9 L104.4 242.9 L104.4 242.9 L104.4 242.9 L104.4 243.0 L104.4 243.0 L104.4 244.9 L104.4 244.9 L104.4 244.9 L104.4 245.0 L104.4 245.0 L104.4 245.0 L104.4 245.1 L104.4 245.1 L104.4 245.1 L104.4 245.1 L104.4 245.2 L104.4 245.2 L104.4 245.2 L104.5 245.2 L104.5 245.3 L104.5 245.3 L104.5 245.3 L104.5 245.3 L104.6 245.4 L104.6 245.4 L104.6 245.4 L104.6 245.4 L104.7 245.4 L104.7 245.5 L104.7 245.5 L104.8 245.5Z"/>
<path fill="#0a73bb" fill-rule="evenodd" d="M105.3 299.8 L105.3 299.8 L105.2 300.2 L105.2 300.2 L105.2 312.9 L105.2 312.9 L105.3 313.3 L105.3 313.4 L105.5 313.8 L105.5 313.8 L107.3 316.2 L108.9 318.4 L109.0 318.5 L109.7 320.4 L111.7 325.5 L112.1 326.6 L112.2 326.7 L112.4 327.0 L112.4 327.1 L114.0 328.9 L115.5 330.8 L115.6 330.8 L115.8 331.1 L115.9 331.1 L116.2 331.3 L116.3 331.3 L116.7 331.4 L116.8 331.4 L117.1 331.3 L117.2 331.3 L117.5 331.2 L117.6 331.1 L117.9 330.9 L117.9 330.9 L118.7 330.1 L120.1 328.7 L120.1 328.6 L120.3 328.3 L120.4 328.3 L121.3 326.4 L123.5 321.9 L123.5 321.9 L123.6 321.7 L123.6 321.7 L125.3 316.8 L126.3 313.9 L126.8 312.3 L128.8 314.7 L130.6 316.9 L130.6 316.9 L130.8 317.1 L132.8 319.8 L132.8 319.8 L132.8 319.9 L133.1 320.2 L133.2 320.2 L133.6 320.4 L133.6 320.4 L134.9 320.8 L136.9 321.4 L137.9 321.6 L137.9 321.6 L138.3 321.7 L138.3 321.7 L138.7 321.7 L138.7 321.6 L139.1 321.5 L139.1 321.5 L139.4 321.3 L139.5 321.2 L139.7 321.0 L139.7 320.9 L139.8 320.6 L139.9 320.6 L140.3 319.1 L142.0 313.5 L142.0 313.5 L142.0 313.3 L142.0 313.2 L142.3 310.8 L143.3 302.5 L143.5 300.9 L144.0 296.9 L144.0 296.7 L145.3 294.3 L146.8 291.3 L146.8 291.3 L148.1 292.7 L148.4 293.0 L148.4 293.0 L148.7 293.2 L148.8 293.3 L149.0 293.4 L149.1 293.4 L149.4 293.5 L149.5 293.5 L149.8 293.5 L149.9 293.5 L150.2 293.4 L150.3 293.3 L150.5 293.2 L150.6 293.1 L150.8 292.9 L150.9 292.8 L151.0 292.5 L151.0 292.5 L151.5 291.5 L151.6 291.2 L152.7 288.6 L152.7 288.6 L152.8 288.2 L152.8 288.1 L153.6 279.7 L154.5 270.2 L154.5 270.0 L156.7 265.8 L157.0 266.7 L157.4 267.8 L157.4 267.8 L157.6 268.1 L157.6 268.2 L157.6 268.2 L157.6 268.2 L157.6 268.2 L157.6 268.2 L157.5 268.3 L157.5 268.3 L157.5 268.3 L157.5 268.3 L157.5 268.4 L157.5 268.4 L157.4 268.4 L157.4 268.5 L157.4 268.5 L157.4 268.5 L157.4 268.5 L157.4 268.6 L157.4 268.6 L157.4 268.6 L157.4 268.7 L157.4 268.7 L157.4 268.7 L157.4 268.8 L157.4 268.8 L157.4 268.8 L157.4 268.9 L157.4 268.9 L158.2 270.9 L158.6 271.9 L158.6 271.9 L158.6 272.0 L158.6 272.0 L158.6 272.0 L158.7 272.1 L158.7 272.1 L158.7 272.1 L158.7 272.1 L158.7 272.2 L158.8 272.2 L158.8 272.2 L158.8 272.2 L158.8 272.2 L158.9 272.3 L158.9 272.3 L158.9 272.3 L158.9 272.3 L159.0 272.3 L159.0 272.3 L159.0 272.3 L159.1 272.3 L159.1 272.3 L159.1 272.3 L159.2 272.3 L159.2 272.3 L159.2 272.3 L159.3 272.3 L159.3 272.3 L159.3 272.3 L159.4 272.3 L159.4 272.3 L159.4 272.3 L159.4 272.3 L159.5 272.3 L159.5 272.3 L159.5 272.3 L159.6 272.2 L159.6 272.2 L159.6 272.2 L159.6 272.2 L159.7 272.2 L159.7 272.1 L159.7 272.1 L159.7 272.1 L159.7 272.1 L159.8 272.0 L159.8 272.0 L159.8 272.0 L159.8 272.0 L159.8 271.9 L159.8 271.9 L159.8 271.9 L159.8 271.9 L159.9 271.4 L160.6 268.7 L160.6 268.7 L160.6 268.6 L160.6 268.6 L160.6 268.6 L160.6 268.5 L160.6 268.5 L160.6 268.5 L160.6 268.4 L160.6 268.4 L160.6 268.4 L160.6 268.3 L160.6 268.3 L160.6 268.3 L160.6 268.3 L160.5 268.2 L160.5 268.2 L160.5 268.2 L160.5 268.2 L160.5 268.1 L160.5 268.1 L160.4 268.1 L160.4 268.1 L160.4 268.0 L160.4 268.0 L160.3 268.0 L160.3 268.0 L160.4 268.0 L160.5 267.7 L160.5 267.6 L160.6 267.2 L160.9 265.9 L163.0 270.1 L163.0 270.2 L165.5 280.0 L165.5 280.0 L165.5 280.1 L165.5 280.1 L166.4 283.1 L167.2 285.7 L168.0 288.4 L168.0 288.4 L170.5 298.4 L170.5 298.4 L171.4 302.6 L173.0 310.1 L173.9 314.5 L174.7 318.3 L174.7 318.3 L174.8 318.5 L174.8 318.5 L175.5 320.4 L178.0 326.8 L178.0 326.8 L179.7 331.3 L180.5 333.2 L180.5 333.3 L180.6 333.6 L180.7 333.6 L182.3 335.8 L182.7 336.3 L182.7 336.4 L182.9 336.6 L183.0 336.6 L183.2 336.8 L183.3 336.8 L183.6 336.9 L183.6 337.0 L183.9 337.0 L184.0 337.0 L184.5 337.0 L184.5 337.0 L184.8 337.0 L184.9 336.9 L185.2 336.8 L185.3 336.8 L185.6 336.6 L185.6 336.5 L187.6 334.5 L187.7 334.5 L187.7 334.5 L189.9 333.6 L192.2 335.9 L192.2 335.9 L192.5 336.1 L192.6 336.2 L192.9 336.3 L193.0 336.3 L193.3 336.4 L193.4 336.4 L193.8 336.3 L193.8 336.3 L194.2 336.1 L194.2 336.1 L194.5 335.8 L194.5 335.8 L194.7 335.5 L194.8 335.4 L194.9 335.0 L194.9 335.0 L196.1 327.0 L196.1 327.0 L196.1 327.0 L196.1 327.0 L197.3 318.9 L198.3 312.1 L198.6 310.2 L198.6 310.0 L199.9 307.6 L201.1 314.2 L202.0 319.0 L202.2 320.0 L202.2 320.0 L202.2 320.1 L202.2 320.1 L202.3 320.4 L202.9 322.6 L203.5 324.7 L203.9 326.1 L203.9 326.1 L204.7 329.7 L205.5 333.3 L205.5 333.3 L205.5 333.4 L205.5 333.4 L207.2 339.9 L207.2 339.9 L207.3 340.3 L207.3 340.3 L208.0 341.5 L209.6 344.1 L209.6 344.2 L210.0 344.6 L210.0 344.6 L210.5 345.0 L211.5 345.7 L212.3 346.4 L212.4 346.4 L212.7 346.5 L212.7 346.6 L213.1 346.7 L213.1 346.7 L213.5 346.7 L213.5 346.7 L213.9 346.6 L213.9 346.5 L214.2 346.4 L214.3 346.4 L216.0 345.1 L216.9 344.4 L216.9 344.4 L216.9 344.4 L216.9 344.4 L218.5 343.2 L220.0 342.1 L220.6 342.5 L222.3 343.8 L223.0 344.4 L223.0 344.4 L223.3 344.5 L223.3 344.5 L224.1 344.9 L226.5 346.0 L228.9 353.3 L228.9 353.4 L230.5 361.6 L230.5 361.6 L230.6 362.0 L230.6 362.0 L233.0 366.8 L233.0 366.8 L233.1 366.9 L233.1 366.9 L233.9 368.3 L234.2 368.8 L234.3 368.8 L234.5 369.1 L234.5 369.2 L234.8 369.4 L234.9 369.4 L235.2 369.5 L235.3 369.5 L235.7 369.6 L235.8 369.6 L236.1 369.5 L236.2 369.5 L236.5 369.3 L236.6 369.3 L236.8 369.0 L236.9 368.9 L237.1 368.6 L237.1 368.6 L238.5 365.2 L241.3 363.8 L241.4 363.8 L241.7 363.6 L241.7 363.5 L241.9 363.3 L242.0 363.2 L242.1 362.9 L242.2 362.9 L243.6 358.5 L243.6 358.4 L246.0 354.4 L248.3 353.6 L248.3 353.6 L248.6 353.5 L248.6 353.5 L249.4 353.0 L250.7 352.1 L252.3 353.8 L252.9 354.5 L253.0 354.6 L253.3 354.8 L253.4 354.9 L254.9 355.7 L257.3 356.9 L257.4 357.0 L259.0 358.1 L259.3 358.3 L259.3 358.4 L259.6 358.5 L259.7 358.5 L260.0 358.6 L260.1 358.6 L260.4 358.6 L260.5 358.6 L260.8 358.5 L260.9 358.5 L261.2 358.3 L261.2 358.3 L261.5 358.0 L261.5 358.0 L261.7 357.7 L261.7 357.6 L262.3 356.3 L262.7 355.3 L262.7 355.2 L262.8 354.9 L262.8 354.8 L263.6 348.2 L264.5 340.6 L264.5 340.5 L266.1 332.7 L268.4 330.8 L268.4 330.8 L268.6 330.6 L268.6 330.6 L268.7 330.5 L269.1 330.0 L270.2 328.7 L270.7 328.1 L271.2 329.4 L272.7 333.3 L272.9 333.9 L273.0 334.0 L273.2 334.3 L273.2 334.3 L273.9 335.2 L274.3 335.7 L275.6 337.3 L276.4 338.4 L276.5 338.5 L278.0 341.1 L278.5 341.8 L278.5 341.9 L278.7 342.1 L278.7 342.2 L279.0 342.4 L279.1 342.4 L279.4 342.5 L279.4 342.6 L279.8 342.6 L279.8 342.6 L280.2 342.6 L280.2 342.6 L282.3 342.0 L284.7 346.8 L284.7 346.8 L284.8 346.9 L284.8 346.9 L285.0 347.3 L287.2 350.7 L288.0 351.9 L288.0 351.9 L288.1 351.9 L288.1 351.9 L291.4 356.8 L291.4 356.8 L291.6 357.0 L291.6 357.0 L294.8 360.2 L294.8 360.2 L295.8 361.5 L295.8 361.5 L296.1 361.7 L296.2 361.8 L296.5 361.9 L296.5 361.9 L296.9 362.0 L296.9 362.0 L297.3 362.0 L297.4 362.0 L297.7 361.9 L297.8 361.9 L298.0 361.7 L298.1 361.6 L298.3 361.4 L298.4 361.3 L298.5 361.0 L298.6 361.0 L298.6 360.9 L299.5 358.5 L299.5 358.5 L299.5 358.3 L299.5 358.3 L300.9 352.7 L301.2 353.6 L301.2 353.7 L301.4 354.0 L301.4 354.0 L301.4 354.0 L301.4 354.0 L301.3 354.0 L301.3 354.1 L301.3 354.1 L301.3 354.1 L301.3 354.1 L301.3 354.2 L301.2 354.2 L301.2 354.2 L301.2 354.3 L301.2 354.3 L301.2 354.3 L301.2 354.3 L301.2 354.4 L301.2 354.4 L301.2 354.4 L301.2 354.5 L301.2 354.5 L301.2 354.5 L301.2 354.6 L301.2 354.6 L301.2 354.6 L301.2 354.7 L301.2 354.7 L302.7 358.5 L302.7 358.5 L302.7 358.6 L302.7 358.6 L302.7 358.6 L302.8 358.7 L302.8 358.7 L302.8 358.7 L302.8 358.7 L302.8 358.8 L302.9 358.8 L302.9 358.8 L302.9 358.8 L302.9 358.8 L303.0 358.9 L303.0 358.9 L303.0 358.9 L303.0 358.9 L303.1 358.9 L303.1 358.9 L303.1 358.9 L303.2 358.9 L303.2 358.9 L303.2 358.9 L303.3 358.9 L303.3 358.9 L303.3 358.9 L303.4 358.9 L303.4 358.9 L303.4 358.9 L303.5 358.9 L303.5 358.9 L303.5 358.9 L303.5 358.9 L303.6 358.9 L303.6 358.9 L303.6 358.9 L303.7 358.8 L303.7 358.8 L303.7 358.8 L303.7 358.8 L303.8 358.8 L303.8 358.7 L303.8 358.7 L303.8 358.7 L303.8 358.7 L303.9 358.6 L303.9 358.6 L303.9 358.6 L303.9 358.6 L303.9 358.5 L303.9 358.5 L303.9 358.5 L303.9 358.4 L303.9 358.4 L303.9 358.4 L304.5 354.3 L304.5 354.3 L304.5 354.3 L304.5 354.2 L304.5 354.2 L304.5 354.2 L304.5 354.1 L304.5 354.1 L304.5 354.1 L304.5 354.0 L304.5 354.0 L304.5 354.0 L304.4 353.9 L304.4 353.9 L304.4 353.9 L304.4 353.9 L304.4 353.8 L304.4 353.8 L304.3 353.8 L304.3 353.8 L304.3 353.7 L304.3 353.7 L304.2 353.7 L304.2 353.7 L304.2 353.7 L304.2 353.7 L304.2 353.6 L304.3 353.3 L304.3 353.3 L304.5 351.7 L306.1 340.1 L306.1 340.0 L308.5 333.5 L308.5 333.5 L308.6 333.5 L309.9 332.7 L310.7 332.1 L312.9 336.6 L313.0 336.7 L313.2 337.0 L313.2 337.1 L313.5 337.3 L314.0 337.8 L315.6 339.3 L315.7 339.5 L315.8 339.5 L316.0 339.7 L316.1 339.8 L316.5 339.9 L316.5 339.9 L316.9 339.9 L317.0 339.9 L317.3 339.9 L317.4 339.8 L317.7 339.7 L317.7 339.7 L318.5 339.2 L319.1 338.7 L319.8 339.6 L321.4 341.8 L321.5 341.9 L321.7 342.6 L323.4 347.1 L323.9 348.4 L323.9 348.4 L325.5 353.8 L326.4 356.7 L326.4 356.8 L326.4 356.8 L326.4 356.9 L328.0 361.0 L328.8 363.2 L328.9 363.3 L329.1 363.6 L329.1 363.6 L330.6 365.5 L332.2 367.6 L332.3 367.7 L333.0 369.4 L334.4 372.6 L334.4 372.6 L334.6 372.9 L334.6 373.0 L334.9 373.2 L334.9 373.2 L335.2 373.4 L335.3 373.4 L335.6 373.5 L335.7 373.5 L336.0 373.5 L336.1 373.5 L336.4 373.5 L336.5 373.4 L336.8 373.3 L336.8 373.2 L337.1 373.0 L337.1 373.0 L337.3 372.7 L337.3 372.7 L338.5 370.2 L338.5 370.2 L338.6 370.2 L340.9 368.6 L343.2 369.2 L343.2 369.2 L343.5 369.3 L343.6 369.3 L344.0 369.2 L344.0 369.2 L344.3 369.1 L344.4 369.1 L344.7 368.9 L344.7 368.8 L344.9 368.5 L345.0 368.5 L345.3 368.0 L346.9 365.2 L346.9 365.2 L346.9 365.2 L348.5 364.2 L348.9 363.9 L348.9 363.9 L349.2 363.6 L349.2 363.5 L349.4 363.2 L349.5 363.2 L349.6 362.8 L349.6 362.8 L350.3 357.2 L350.9 352.7 L350.9 352.7 L350.9 352.4 L350.9 352.3 L350.9 352.3 L350.9 352.3 L350.9 352.3 L351.0 352.3 L351.0 352.3 L351.0 352.3 L351.1 352.2 L351.1 352.2 L351.1 352.2 L351.1 352.2 L351.2 352.2 L351.2 352.1 L351.2 352.1 L351.2 352.1 L351.2 352.1 L351.3 352.0 L351.3 352.0 L351.3 352.0 L351.3 352.0 L351.3 351.9 L351.3 351.9 L351.3 351.9 L351.3 351.8 L351.4 351.8 L351.4 351.8 L351.4 351.1 L352.3 344.2 L353.1 338.1 L353.9 334.8 L354.0 334.6 L354.0 334.6 L354.0 334.6 L354.0 334.5 L354.0 334.5 L354.0 334.5 L354.0 334.4 L354.0 334.4 L354.0 334.4 L354.0 334.3 L354.0 334.3 L354.0 334.3 L354.0 334.3 L353.9 334.2 L353.9 334.2 L353.9 334.2 L353.9 334.1 L353.9 334.1 L353.9 334.1 L353.8 334.1 L353.8 334.0 L353.8 334.0 L353.8 334.0 L353.8 334.0 L353.7 333.9 L353.7 333.9 L353.7 333.9 L353.9 333.6 L353.9 333.6 L354.3 331.9 L354.3 331.8 L355.8 329.0 L357.2 331.8 L358.2 333.8 L358.9 335.1 L358.9 335.1 L359.0 335.2 L359.0 335.2 L359.9 336.8 L360.7 338.2 L360.9 338.4 L360.9 338.5 L361.1 338.7 L361.2 338.8 L361.5 339.0 L361.6 339.0 L361.9 339.2 L362.0 339.2 L362.3 339.2 L362.4 339.2 L362.8 339.1 L362.8 339.1 L363.4 338.9 L363.6 338.8 L363.6 338.8 L363.9 338.7 L364.0 338.6 L364.3 338.4 L364.3 338.3 L364.5 338.1 L364.5 338.0 L364.6 337.7 L364.6 337.6 L365.3 334.2 L366.0 330.4 L366.8 330.8 L368.2 331.5 L369.0 331.9 L369.0 331.9 L369.1 332.0 L369.1 332.1 L369.2 332.2 L369.3 332.2 L369.5 332.4 L369.6 332.5 L369.9 332.6 L370.0 332.6 L370.3 332.6 L370.4 332.6 L370.7 332.6 L370.8 332.6 L371.1 332.4 L371.2 332.4 L371.4 332.2 L371.5 332.1 L371.7 331.9 L371.7 331.8 L371.8 331.5 L371.9 331.4 L372.8 328.0 L373.6 325.1 L373.6 325.1 L373.6 325.0 L373.6 325.0 L374.5 319.8 L375.3 315.1 L375.3 315.1 L375.3 315.0 L375.3 315.0 L376.9 299.8 L376.9 299.7 L376.8 299.4 L376.8 299.3 L376.7 299.0 L376.7 299.0 L376.7 298.9 L376.7 298.9 L376.9 298.6 L376.9 298.6 L377.0 298.4 L379.0 295.8 L379.4 299.2 L380.5 308.1 L380.5 308.2 L380.6 308.6 L380.6 308.6 L381.6 310.5 L381.6 310.5 L381.8 310.8 L381.8 310.9 L382.0 311.1 L382.1 311.1 L382.4 311.3 L382.4 311.3 L382.7 311.4 L382.8 311.4 L383.1 311.4 L383.2 311.4 L383.5 311.3 L383.6 311.3 L383.9 311.1 L383.9 311.1 L384.8 310.5 L384.8 310.5 L385.0 310.3 L385.1 310.2 L385.3 310.0 L385.3 309.9 L385.4 309.7 L385.4 309.6 L385.5 309.4 L386.8 305.1 L387.5 302.6 L388.9 306.3 L389.5 307.9 L389.6 308.0 L389.7 308.3 L389.7 308.3 L390.0 308.5 L390.0 308.6 L390.3 308.8 L390.3 308.8 L390.7 309.0 L393.1 310.2 L393.1 310.2 L393.1 310.3 L395.0 313.1 L395.1 313.1 L395.3 313.4 L395.4 313.4 L395.7 313.6 L395.7 313.7 L396.1 313.8 L396.2 313.8 L396.5 313.8 L396.6 313.8 L396.9 313.7 L397.0 313.6 L397.3 313.5 L397.4 313.4 L397.6 313.2 L397.7 313.1 L397.8 312.8 L397.9 312.7 L399.2 309.1 L401.4 313.4 L401.4 313.5 L402.2 316.1 L403.8 321.4 L403.8 321.5 L404.0 321.8 L404.0 321.9 L404.2 322.1 L404.3 322.2 L404.8 322.6 L406.1 323.8 L406.1 323.8 L406.4 324.0 L406.4 324.0 L406.8 324.2 L406.8 324.2 L407.2 324.2 L407.2 324.2 L407.6 324.2 L407.6 324.1 L408.0 324.0 L408.0 323.9 L408.3 323.7 L408.3 323.7 L408.5 323.4 L408.5 323.4 L408.6 323.3 L410.2 320.3 L410.2 320.2 L410.3 320.0 L410.3 319.9 L411.1 316.9 L412.0 313.5 L412.0 313.4 L414.4 308.6 L414.4 308.6 L414.5 308.2 L414.5 308.2 L416.0 299.1 L416.1 299.2 L418.0 301.8 L418.1 301.9 L418.9 304.8 L420.4 309.8 L420.4 309.8 L420.6 310.1 L420.6 310.2 L420.8 310.4 L420.8 310.5 L421.5 311.1 L423.1 312.6 L424.0 313.5 L424.0 313.5 L425.6 315.5 L427.0 317.3 L427.0 317.3 L427.2 317.5 L427.3 317.6 L427.5 317.8 L427.6 317.8 L427.9 317.9 L427.9 317.9 L428.2 317.9 L431.5 318.6 L432.9 324.3 L432.9 324.4 L433.0 324.7 L433.1 324.7 L433.0 324.7 L433.0 324.7 L433.0 324.8 L433.0 324.8 L433.0 324.8 L432.9 324.8 L432.9 324.9 L432.9 324.9 L432.9 324.9 L432.9 324.9 L432.9 325.0 L432.8 325.0 L432.8 325.0 L432.8 325.0 L432.8 325.1 L432.8 325.1 L432.8 325.1 L432.8 325.2 L432.8 325.2 L432.8 325.2 L432.8 325.3 L432.8 325.3 L432.8 325.3 L432.8 325.4 L432.8 325.4 L432.8 325.4 L433.6 328.5 L433.6 328.5 L433.6 328.5 L433.6 328.5 L433.6 328.6 L433.6 328.6 L433.6 328.6 L433.6 328.6 L433.7 328.7 L433.7 328.7 L433.7 328.7 L433.7 328.7 L433.8 328.8 L433.8 328.8 L433.8 328.8 L433.8 328.8 L433.9 328.8 L433.9 328.9 L433.9 328.9 L433.9 328.9 L434.0 328.9 L434.0 328.9 L434.0 328.9 L434.1 328.9 L434.1 328.9 L434.1 328.9 L434.1 328.9 L434.2 328.9 L434.2 328.9 L434.2 328.9 L434.3 328.9 L434.3 328.9 L434.3 328.9 L434.4 328.9 L434.4 328.9 L434.4 328.9 L434.5 328.9 L434.5 328.9 L434.5 328.9 L434.5 328.9 L434.6 328.8 L434.6 328.8 L434.6 328.8 L434.6 328.8 L434.7 328.8 L434.7 328.7 L434.7 328.7 L434.7 328.7 L434.7 328.7 L434.8 328.6 L434.8 328.6 L434.8 328.6 L434.8 328.5 L434.8 328.5 L435.6 326.4 L435.9 325.6 L435.9 325.6 L435.9 325.5 L435.9 325.5 L436.0 325.5 L436.0 325.4 L436.0 325.4 L436.0 325.4 L436.0 325.4 L436.0 325.3 L436.0 325.3 L436.0 325.3 L436.0 325.2 L435.9 325.2 L435.9 325.2 L435.9 325.1 L435.9 325.1 L435.9 325.1 L435.9 325.1 L435.9 325.0 L435.9 325.0 L435.8 325.0 L435.8 324.9 L435.8 324.9 L435.8 324.9 L435.8 324.9 L435.8 324.9 L435.8 324.8 L435.9 324.6 L436.0 324.5 L436.9 321.9 L436.9 321.9 L437.0 321.7 L437.0 321.6 L438.6 313.4 L438.6 313.4 L441.1 303.4 L441.1 303.4 L441.1 303.3 L441.1 303.3 L442.3 297.0 L443.6 290.1 L443.6 290.0 L444.5 287.7 L445.3 285.5 L446.0 283.5 L446.0 283.5 L446.1 283.5 L448.1 282.2 L449.2 286.4 L449.6 288.1 L449.7 288.1 L449.7 288.4 L449.8 288.4 L449.9 288.7 L449.9 288.7 L450.3 289.1 L451.5 290.6 L452.6 292.0 L452.6 292.1 L452.8 292.3 L452.9 292.4 L453.2 292.5 L453.3 292.6 L453.7 292.6 L453.8 292.6 L454.1 292.6 L454.2 292.6 L454.3 292.6 L455.9 292.2 L456.5 292.1 L458.0 298.3 L458.0 298.4 L458.6 308.9 L458.6 308.9 L458.6 309.2 L458.6 309.3 L458.6 309.3 L458.6 309.3 L458.6 309.3 L458.6 309.3 L458.5 309.3 L458.5 309.4 L458.5 309.4 L458.5 309.4 L458.4 309.4 L458.4 309.4 L458.4 309.5 L458.4 309.5 L458.4 309.5 L458.4 309.5 L458.3 309.6 L458.3 309.6 L458.3 309.6 L458.3 309.7 L458.3 309.7 L458.3 309.7 L458.3 309.8 L458.3 309.8 L458.3 309.8 L458.3 309.8 L458.3 309.9 L458.3 309.9 L458.6 315.0 L458.6 315.1 L458.6 315.1 L458.6 315.1 L458.6 315.2 L458.6 315.2 L458.6 315.2 L458.6 315.2 L458.6 315.3 L458.6 315.3 L458.6 315.3 L458.7 315.4 L458.7 315.4 L458.7 315.4 L458.7 315.4 L458.7 315.5 L459.5 316.3 L459.6 316.3 L459.6 316.3 L459.6 316.3 L459.6 316.3 L459.7 316.3 L459.7 316.4 L459.7 316.4 L459.7 316.4 L459.8 316.4 L459.8 316.4 L459.8 316.4 L459.9 316.4 L459.9 316.4 L459.9 316.4 L460.0 316.4 L460.0 316.4 L460.0 316.4 L460.1 316.4 L460.1 316.4 L460.1 316.4 L460.1 316.4 L460.2 316.4 L460.2 316.4 L460.2 316.4 L460.3 316.4 L460.3 316.4 L460.3 316.4 L460.4 316.3 L460.4 316.3 L460.4 316.3 L460.4 316.3 L460.5 316.3 L460.5 316.2 L460.5 316.2 L460.5 316.2 L460.5 316.2 L460.6 316.1 L460.6 316.1 L460.6 316.1 L461.9 313.6 L461.9 313.6 L461.9 313.6 L461.9 313.5 L461.9 313.5 L461.9 313.5 L461.9 313.5 L461.9 313.4 L461.9 313.4 L461.9 313.4 L461.9 313.3 L461.9 313.3 L462.1 309.9 L462.1 309.8 L462.1 309.8 L462.1 309.8 L462.1 309.7 L462.1 309.7 L462.1 309.7 L462.1 309.7 L462.0 309.6 L462.0 309.6 L462.0 309.6 L462.0 309.5 L462.0 309.5 L462.0 309.5 L462.0 309.5 L461.9 309.4 L461.9 309.4 L461.9 309.4 L461.9 309.4 L461.9 309.3 L461.8 309.3 L461.8 309.3 L461.8 309.3 L461.8 309.3 L461.7 309.3 L461.7 309.2 L461.7 309.2 L461.7 309.2 L461.8 308.9 L461.8 308.8 L462.3 295.1 L463.5 295.9 L463.9 296.2 L464.0 296.2 L464.0 296.2 L466.3 301.3 L466.3 301.3 L466.5 301.6 L466.5 301.7 L466.8 301.9 L466.8 301.9 L467.8 302.7 L469.0 303.5 L469.0 303.5 L469.0 303.5 L469.7 304.8 L471.4 307.6 L471.4 307.7 L471.7 308.3 L472.2 309.5 L473.9 313.4 L473.9 313.4 L473.9 313.5 L473.9 313.5 L476.3 318.3 L476.4 318.3 L476.6 318.6 L476.6 318.7 L477.3 319.3 L479.0 321.1 L479.0 321.1 L479.1 321.2 L479.3 321.4 L479.4 321.4 L479.7 321.6 L479.8 321.6 L480.2 321.6 L480.3 321.6 L480.6 321.5 L480.7 321.5 L481.0 321.4 L481.1 321.3 L482.4 320.5 L483.4 323.4 L483.5 323.4 L483.6 323.7 L483.6 323.7 L483.6 323.8 L483.6 323.8 L483.6 323.8 L483.6 323.8 L483.5 323.8 L483.5 323.9 L483.5 323.9 L483.5 323.9 L483.5 324.0 L483.5 324.0 L483.5 324.0 L483.4 324.1 L483.4 324.1 L483.4 324.1 L483.4 324.1 L483.4 324.2 L483.4 324.2 L483.4 324.2 L483.4 324.3 L483.4 324.3 L483.4 324.3 L483.4 324.4 L483.4 324.4 L483.5 324.4 L483.5 324.4 L483.6 324.8 L484.4 326.9 L484.4 326.9 L484.4 327.0 L484.4 327.0 L484.4 327.0 L484.5 327.1 L484.5 327.1 L484.5 327.1 L484.5 327.1 L484.5 327.2 L484.6 327.2 L484.6 327.2 L484.6 327.2 L484.6 327.2 L484.7 327.3 L484.7 327.3 L484.7 327.3 L484.7 327.3 L484.8 327.3 L484.8 327.3 L484.8 327.3 L484.9 327.3 L484.9 327.3 L484.9 327.3 L485.0 327.3 L485.0 327.3 L485.0 327.3 L485.1 327.3 L485.1 327.3 L485.1 327.3 L485.2 327.3 L485.2 327.3 L485.2 327.3 L485.2 327.3 L485.3 327.3 L485.3 327.3 L485.3 327.3 L485.4 327.2 L485.4 327.2 L485.4 327.2 L485.4 327.2 L485.5 327.2 L485.5 327.1 L485.5 327.1 L485.5 327.1 L485.5 327.1 L485.6 327.0 L485.6 327.0 L485.6 327.0 L485.6 327.0 L485.6 326.9 L485.6 326.9 L486.4 324.6 L486.5 324.4 L486.5 324.4 L486.5 324.4 L486.5 324.3 L486.5 324.3 L486.5 324.3 L486.5 324.2 L486.5 324.2 L486.5 324.2 L486.5 324.1 L486.5 324.1 L486.5 324.1 L486.5 324.0 L486.5 324.0 L486.5 324.0 L486.5 323.9 L486.4 323.9 L486.4 323.9 L486.4 323.9 L486.4 323.8 L486.4 323.8 L486.4 323.8 L486.3 323.8 L486.3 323.7 L486.3 323.7 L486.3 323.7 L486.3 323.7 L486.4 323.4 L486.5 323.3 L486.9 321.9 L486.9 321.9 L487.0 321.6 L487.0 321.6 L487.8 313.8 L488.2 314.0 L490.1 315.0 L490.1 315.0 L490.4 315.1 L490.5 315.1 L490.8 315.1 L490.8 315.1 L491.1 315.1 L491.2 315.1 L491.5 315.0 L491.5 315.0 L493.1 314.2 L493.8 313.8 L494.2 313.6 L495.2 313.9 L497.1 314.4 L497.3 314.5 L497.7 315.5 L499.7 320.0 L499.7 320.2 L500.5 334.7 L500.5 334.7 L500.6 335.0 L500.6 335.1 L500.7 335.4 L500.8 335.5 L500.9 335.7 L500.9 335.7 L501.1 335.9 L501.2 336.0 L501.5 336.2 L501.6 336.2 L501.9 336.3 L502.0 336.3 L502.3 336.4 L502.4 336.3 L502.8 336.3 L502.8 336.2 L503.1 336.1 L503.2 336.0 L503.4 335.8 L503.5 335.7 L503.7 335.4 L503.7 335.4 L504.4 333.6 L504.4 333.5 L504.5 333.2 L504.5 333.1 L505.3 325.1 L505.3 325.0 L506.9 320.3 L509.1 320.3 L509.5 320.8 L511.1 323.0 L511.5 323.5 L511.5 323.5 L511.8 323.9 L514.0 326.9 L514.0 326.9 L514.0 326.9 L514.0 326.9 L516.4 330.1 L516.4 330.1 L516.4 330.1 L517.2 338.0 L517.2 338.0 L517.3 338.4 L517.3 338.4 L517.4 338.7 L517.5 338.8 L518.1 339.6 L519.6 341.6 L519.6 341.6 L519.8 341.9 L519.9 341.9 L520.1 342.1 L520.2 342.1 L520.7 342.4 L523.0 343.5 L523.2 343.6 L524.4 344.8 L524.4 344.9 L524.7 345.1 L524.8 345.1 L525.1 345.2 L525.2 345.3 L525.5 345.3 L525.6 345.3 L525.9 345.3 L526.0 345.3 L526.3 345.1 L526.4 345.1 L526.6 344.9 L526.7 344.8 L526.9 344.6 L526.9 344.5 L527.5 343.7 L528.4 342.1 L528.5 342.0 L528.6 341.6 L528.6 341.5 L529.3 337.8 L529.7 338.9 L531.4 343.4 L531.4 343.4 L532.2 346.7 L533.0 350.0 L533.0 350.0 L533.1 350.2 L533.1 350.2 L533.9 352.3 L534.1 352.7 L534.1 352.8 L534.3 353.1 L534.3 353.1 L534.3 353.1 L534.2 353.1 L534.2 353.2 L534.2 353.2 L534.2 353.2 L534.2 353.2 L534.2 353.3 L534.1 353.3 L534.1 353.3 L534.1 353.4 L534.1 353.4 L534.1 353.4 L534.1 353.4 L534.1 353.5 L534.1 353.5 L534.1 353.5 L534.1 353.6 L534.1 353.6 L534.1 353.6 L534.1 353.7 L534.1 353.7 L534.1 353.7 L534.1 353.8 L534.1 353.8 L534.1 353.8 L535.2 356.4 L535.2 356.5 L535.2 356.5 L535.2 356.5 L535.2 356.5 L535.3 356.6 L535.3 356.6 L535.3 356.6 L535.3 356.6 L535.3 356.7 L535.4 356.7 L535.4 356.7 L535.4 356.7 L535.5 356.7 L535.5 356.8 L535.5 356.8 L535.5 356.8 L535.6 356.8 L535.6 356.8 L535.6 356.8 L535.7 356.8 L535.7 356.8 L535.7 356.8 L535.8 356.8 L535.8 356.8 L535.8 356.8 L535.9 356.8 L535.9 356.8 L535.9 356.8 L535.9 356.8 L536.0 356.8 L536.0 356.8 L536.0 356.8 L536.1 356.8 L536.1 356.8 L536.1 356.8 L536.2 356.7 L536.2 356.7 L536.2 356.7 L536.2 356.7 L536.3 356.7 L536.3 356.6 L536.3 356.6 L536.3 356.6 L536.3 356.6 L536.4 356.5 L536.4 356.5 L536.4 356.5 L536.4 356.4 L536.4 356.4 L536.4 356.4 L536.4 356.4 L537.2 353.6 L537.2 353.6 L537.2 353.6 L537.2 353.5 L537.2 353.5 L537.2 353.5 L537.2 353.4 L537.2 353.4 L537.2 353.4 L537.2 353.4 L537.2 353.3 L537.2 353.3 L537.2 353.3 L537.2 353.2 L537.2 353.2 L537.1 353.2 L537.1 353.1 L537.1 353.1 L537.1 353.1 L537.1 353.1 L537.1 353.0 L537.0 353.0 L537.0 353.0 L537.0 353.0 L537.0 353.0 L537.0 352.9 L537.0 352.9 L537.1 352.6 L537.1 352.6 L537.8 350.2 L537.8 350.2 L537.8 349.9 L537.8 349.9 L538.6 340.5 L540.6 341.9 L540.6 342.0 L540.9 342.1 L541.0 342.1 L541.3 342.2 L541.4 342.2 L541.7 342.2 L541.8 342.2 L542.1 342.1 L542.2 342.1 L542.5 341.9 L542.6 341.8 L542.8 341.6 L542.8 341.5 L543.0 341.2 L543.0 341.2 L543.1 340.8 L543.1 340.8 L543.6 336.8 L543.6 336.7 L545.2 330.5 L547.0 331.7 L547.2 331.9 L547.3 332.0 L548.1 332.9 L548.3 333.2 L548.3 333.3 L548.6 333.5 L548.6 333.6 L548.9 333.7 L549.0 333.8 L549.3 333.8 L549.4 333.9 L549.8 333.8 L549.9 333.8 L550.2 333.7 L550.3 333.7 L550.6 333.5 L550.6 333.5 L550.9 333.2 L550.9 333.1 L551.1 332.8 L551.1 332.8 L552.0 330.2 L552.0 330.1 L552.0 330.0 L552.0 330.0 L553.4 324.0 L554.0 324.7 L555.5 326.8 L555.5 326.9 L556.4 330.3 L557.0 332.6 L557.2 333.2 L557.2 333.3 L557.3 333.5 L557.3 333.6 L561.7 342.4 L561.8 342.5 L562.0 342.8 L562.0 342.8 L562.3 343.1 L562.4 343.1 L562.7 343.3 L562.8 343.3 L563.2 343.3 L563.2 343.3 L563.6 343.3 L563.7 343.2 L564.9 342.9 L565.5 344.0 L567.2 346.8 L567.2 346.9 L568.0 348.8 L568.6 350.2 L568.6 350.2 L568.7 350.5 L568.8 350.5 L568.7 350.5 L568.7 350.6 L568.7 350.6 L568.7 350.6 L568.7 350.6 L568.6 350.7 L568.6 350.7 L568.6 350.7 L568.6 350.7 L568.6 350.8 L568.6 350.8 L568.6 350.8 L568.6 350.9 L568.6 350.9 L568.6 350.9 L568.6 351.0 L568.6 351.0 L568.6 351.0 L568.6 351.1 L568.6 351.1 L568.6 351.1 L568.6 351.2 L568.6 351.2 L568.6 351.2 L568.6 351.2 L569.4 353.2 L569.4 353.3 L569.4 353.3 L569.4 353.3 L569.4 353.3 L569.5 353.4 L569.5 353.4 L569.5 353.4 L569.5 353.4 L569.5 353.5 L569.6 353.5 L569.6 353.5 L569.6 353.5 L569.6 353.5 L569.7 353.6 L569.7 353.6 L569.7 353.6 L569.8 353.6 L569.8 353.6 L569.8 353.6 L569.9 353.6 L569.9 353.6 L569.9 353.6 L569.9 353.6 L570.0 353.6 L570.0 353.6 L570.0 353.6 L570.1 353.6 L570.1 353.6 L570.1 353.6 L570.2 353.6 L570.2 353.6 L570.2 353.6 L570.3 353.6 L570.3 353.6 L570.3 353.6 L570.3 353.6 L570.4 353.5 L570.4 353.5 L570.4 353.5 L570.4 353.5 L570.5 353.5 L570.5 353.4 L570.5 353.4 L570.5 353.4 L570.5 353.4 L570.6 353.3 L570.6 353.3 L570.6 353.3 L570.6 353.3 L571.4 351.3 L571.5 351.2 L571.5 351.2 L571.5 351.2 L571.5 351.2 L571.5 351.1 L571.5 351.1 L571.5 351.1 L571.5 351.0 L571.5 351.0 L571.5 351.0 L571.5 350.9 L571.5 350.9 L571.5 350.9 L571.5 350.8 L571.5 350.8 L571.5 350.8 L571.4 350.7 L571.4 350.7 L571.4 350.7 L571.4 350.7 L571.4 350.6 L571.4 350.6 L571.3 350.6 L571.3 350.6 L571.3 350.6 L571.3 350.5 L571.5 350.2 L571.5 350.2 L572.0 349.1 L572.2 348.5 L572.2 348.5 L572.3 348.3 L572.3 348.2 L573.6 341.8 L573.6 341.8 L573.6 341.8 L575.2 339.6 L576.0 338.6 L576.0 338.5 L576.1 338.4 L576.1 338.3 L578.4 333.7 L580.3 334.3 L580.3 334.3 L580.6 334.4 L580.7 334.4 L580.9 334.4 L581.0 334.4 L581.3 334.3 L581.3 334.3 L583.3 333.6 L583.3 333.6 L583.6 333.5 L583.6 333.5 L585.9 332.0 L586.0 332.0 L588.3 331.1 L590.5 331.9 L592.2 339.8 L592.2 339.8 L592.2 340.1 L592.3 340.1 L592.4 340.4 L592.4 340.4 L592.5 340.6 L592.6 340.6 L592.8 340.9 L592.9 341.0 L593.2 341.1 L593.2 341.2 L593.6 341.3 L593.7 341.3 L594.0 341.3 L594.1 341.3 L594.4 341.2 L594.5 341.2 L594.8 341.0 L594.9 340.9 L595.1 340.7 L595.2 340.6 L595.4 340.3 L595.4 340.3 L596.1 338.4 L596.1 338.4 L596.1 338.4 L596.1 338.4 L597.7 333.5 L598.4 333.3 L600.1 332.8 L600.9 332.5 L602.6 332.0 L602.6 332.0 L602.6 332.0 L602.6 332.0 L604.3 331.4 L604.7 331.2 L605.5 337.5 L605.9 341.2 L605.9 341.2 L606.0 341.6 L606.1 341.6 L606.2 341.9 L606.3 342.0 L606.5 342.2 L606.6 342.3 L607.1 342.7 L607.1 342.7 L607.4 342.9 L607.5 342.9 L607.8 343.0 L607.8 343.0 L608.2 343.0 L608.2 343.0 L608.5 342.9 L608.6 342.9 L608.9 342.8 L608.9 342.8 L609.4 342.5 L609.8 342.2 L609.8 342.2 L610.0 342.0 L610.1 341.9 L610.3 341.7 L610.3 341.6 L610.4 341.4 L610.4 341.3 L610.7 340.3 L610.7 340.2 L610.8 339.9 L610.8 339.8 L610.8 332.1 L610.8 332.1 L610.7 331.7 L610.7 331.6 L610.5 331.2 L610.5 331.2 L609.5 329.9 L609.5 329.9 L609.5 329.8 L608.3 325.0 L608.3 324.9 L607.8 312.2 L607.8 312.2 L607.8 311.8 L607.7 311.8 L607.6 311.5 L607.6 311.4 L607.4 311.2 L607.4 311.1 L607.0 310.7 L606.9 310.7 L606.7 310.5 L606.6 310.5 L606.3 310.3 L606.2 310.3 L605.8 310.3 L605.8 310.3 L605.4 310.3 L605.3 310.3 L605.0 310.5 L605.0 310.5 L604.7 310.7 L604.7 310.8 L604.2 311.2 L604.2 311.3 L604.0 311.6 L604.0 311.6 L603.8 312.0 L603.8 312.0 L602.2 319.8 L602.2 319.8 L602.2 319.9 L600.6 321.4 L600.6 321.5 L598.2 323.0 L598.2 323.0 L598.1 323.1 L598.1 323.1 L595.9 324.6 L595.9 324.6 L595.6 324.8 L595.6 324.9 L595.4 325.1 L595.4 325.2 L594.2 327.5 L592.8 323.2 L592.8 323.2 L591.3 318.1 L591.3 318.0 L591.1 317.8 L591.1 317.7 L590.9 317.4 L590.9 317.4 L590.6 317.2 L590.6 317.1 L590.3 317.0 L590.2 317.0 L588.5 316.4 L588.4 316.4 L583.6 313.2 L583.6 313.1 L583.3 313.0 L583.2 313.0 L581.0 312.2 L580.9 312.2 L580.8 312.2 L580.8 312.2 L579.0 311.8 L578.9 311.8 L578.5 311.8 L578.4 311.8 L578.1 311.9 L578.0 311.9 L577.7 312.1 L577.6 312.2 L576.8 312.8 L576.8 312.8 L576.5 313.1 L576.5 313.2 L576.3 313.6 L576.3 313.6 L574.7 319.9 L574.7 319.9 L573.0 324.8 L573.0 324.8 L573.0 325.0 L573.0 325.0 L571.4 333.2 L571.4 333.3 L569.9 337.5 L568.6 335.0 L568.6 334.9 L568.5 334.8 L568.5 334.7 L566.0 331.5 L566.0 331.5 L563.5 328.1 L563.5 328.1 L563.5 328.1 L563.5 328.1 L561.1 324.9 L561.0 324.8 L559.5 321.6 L559.5 321.6 L557.6 317.5 L557.6 317.3 L557.0 307.3 L557.0 307.2 L557.0 306.9 L556.9 306.8 L556.8 306.5 L556.7 306.4 L556.5 306.1 L556.4 306.1 L555.0 305.0 L555.0 304.9 L554.7 304.8 L554.6 304.7 L554.3 304.6 L554.2 304.6 L553.8 304.6 L553.7 304.6 L553.4 304.7 L553.4 304.7 L552.2 305.3 L552.1 305.3 L551.9 305.4 L551.8 305.5 L551.6 305.7 L551.6 305.7 L551.4 306.0 L551.4 306.1 L551.3 306.3 L551.3 306.4 L549.7 313.2 L549.7 313.2 L548.3 318.8 L547.6 316.1 L547.6 316.1 L547.4 315.7 L547.4 315.6 L547.1 315.3 L547.1 315.3 L546.5 314.8 L546.5 314.8 L546.2 314.6 L546.1 314.6 L545.8 314.5 L545.7 314.5 L545.4 314.5 L545.3 314.5 L545.0 314.5 L544.9 314.6 L544.6 314.7 L544.5 314.8 L544.3 315.0 L544.2 315.1 L543.2 316.4 L543.1 316.4 L543.0 316.7 L543.0 316.7 L540.6 321.5 L540.6 321.5 L540.5 321.5 L538.6 322.8 L538.5 322.8 L538.3 323.0 L538.2 323.1 L538.1 323.3 L538.0 323.4 L537.9 323.7 L537.9 323.7 L536.4 329.8 L536.4 329.9 L534.3 334.1 L532.9 328.5 L532.8 328.5 L532.8 328.2 L532.7 328.2 L532.6 327.9 L532.6 327.9 L530.3 324.9 L530.3 324.9 L530.3 324.9 L529.6 320.4 L529.6 320.4 L529.5 320.1 L529.5 320.0 L529.3 319.8 L529.3 319.7 L529.1 319.5 L529.0 319.5 L528.2 318.8 L528.2 318.7 L527.9 318.5 L527.8 318.5 L527.5 318.4 L527.4 318.4 L527.0 318.4 L526.9 318.4 L526.6 318.5 L526.5 318.5 L526.2 318.7 L526.2 318.7 L525.2 319.5 L525.2 319.5 L525.0 319.7 L524.9 319.8 L524.7 320.0 L524.7 320.1 L524.6 320.4 L524.6 320.4 L523.1 328.8 L521.0 328.1 L518.6 323.2 L518.6 323.1 L517.0 318.3 L517.0 318.3 L516.9 318.1 L516.9 318.1 L514.5 313.2 L514.5 313.2 L512.3 308.3 L512.3 308.1 L511.6 297.2 L511.6 297.1 L511.6 296.8 L511.6 296.8 L511.4 296.5 L511.4 296.4 L511.2 296.2 L511.2 296.2 L510.8 295.7 L510.8 295.7 L510.5 295.5 L510.4 295.4 L510.1 295.3 L510.1 295.3 L509.7 295.2 L509.7 295.2 L509.3 295.2 L509.2 295.3 L508.9 295.4 L508.9 295.4 L508.6 295.6 L508.6 295.6 L507.9 296.2 L507.8 296.3 L507.6 296.5 L507.6 296.6 L507.4 296.9 L507.4 296.9 L506.4 299.9 L506.4 299.9 L506.4 300.0 L506.4 300.0 L504.7 306.6 L504.7 306.6 L504.7 306.6 L504.7 306.6 L504.0 309.4 L502.8 308.2 L502.8 308.2 L502.8 308.1 L501.1 298.3 L501.1 298.2 L500.3 291.9 L500.3 291.9 L500.3 291.6 L500.2 291.6 L500.1 291.3 L500.1 291.3 L498.3 288.2 L498.3 288.2 L498.3 288.2 L497.5 279.6 L497.5 279.6 L497.5 279.3 L497.5 279.2 L497.3 279.0 L497.3 278.9 L497.1 278.7 L497.1 278.7 L496.5 278.1 L496.5 278.0 L496.3 277.8 L496.2 277.8 L495.9 277.7 L495.9 277.6 L495.5 277.6 L495.5 277.6 L495.2 277.6 L495.1 277.6 L494.8 277.7 L494.7 277.7 L494.4 277.9 L494.4 277.9 L494.2 278.1 L494.1 278.2 L493.7 278.7 L493.7 278.7 L493.5 279.1 L493.5 279.2 L493.4 279.5 L493.4 279.6 L492.7 289.8 L491.1 290.4 L491.1 290.4 L490.8 290.5 L490.8 290.5 L490.6 290.7 L490.5 290.8 L490.3 291.0 L490.3 291.0 L488.1 294.8 L488.1 294.8 L488.0 294.9 L488.0 294.9 L485.5 299.9 L485.5 299.9 L485.5 299.9 L485.5 299.9 L483.9 303.2 L483.9 303.2 L482.2 306.6 L482.2 306.6 L480.7 309.5 L479.5 307.9 L479.5 307.9 L479.5 307.8 L477.8 301.0 L477.8 300.9 L477.6 300.5 L477.6 300.4 L476.1 298.3 L476.1 298.1 L474.5 291.7 L474.5 291.6 L472.8 278.3 L472.8 278.3 L472.3 273.0 L472.3 273.0 L472.3 272.6 L472.2 272.6 L472.1 272.3 L472.0 272.2 L471.8 272.0 L471.8 271.9 L471.0 271.3 L471.0 271.3 L470.7 271.1 L470.6 271.0 L470.3 270.9 L470.2 270.9 L469.8 270.9 L469.7 270.9 L469.4 271.0 L469.3 271.1 L469.0 271.3 L469.0 271.3 L468.1 272.0 L468.1 272.0 L467.8 272.3 L467.8 272.4 L467.6 272.8 L467.6 272.8 L466.5 277.1 L464.5 276.5 L464.0 268.0 L464.0 267.9 L464.0 267.6 L463.9 267.6 L463.8 267.3 L463.8 267.2 L463.6 267.0 L463.6 266.9 L463.1 266.4 L463.0 266.4 L462.8 266.2 L462.7 266.2 L462.4 266.0 L462.3 266.0 L462.0 266.0 L462.0 266.0 L461.6 266.0 L461.6 266.0 L461.3 266.1 L461.2 266.1 L460.9 266.3 L460.9 266.3 L460.2 267.0 L460.1 267.0 L459.9 267.2 L459.9 267.3 L459.7 267.5 L459.7 267.6 L459.6 267.9 L459.6 267.9 L459.0 271.3 L458.3 271.2 L458.2 271.2 L457.9 271.1 L457.8 271.1 L457.5 271.2 L457.4 271.2 L457.1 271.3 L457.1 271.4 L456.8 271.6 L456.8 271.6 L455.7 272.7 L455.7 272.7 L455.5 273.0 L455.4 273.0 L454.0 275.7 L452.0 275.7 L450.8 268.0 L450.8 267.9 L450.3 257.1 L450.3 257.0 L450.3 256.7 L450.2 256.6 L450.1 256.3 L450.0 256.2 L449.8 256.0 L449.8 255.9 L449.5 255.7 L449.4 255.7 L449.1 255.6 L449.0 255.6 L448.7 255.5 L448.6 255.5 L446.8 255.6 L446.8 255.7 L446.4 255.7 L446.3 255.7 L446.0 255.9 L446.0 255.9 L445.7 256.2 L445.7 256.2 L445.5 256.5 L445.4 256.6 L445.3 256.9 L445.3 256.9 L445.0 258.5 L444.7 256.9 L444.7 256.9 L444.6 256.5 L444.5 256.5 L444.4 256.2 L444.3 256.1 L444.1 255.9 L444.0 255.9 L443.7 255.7 L443.6 255.7 L443.3 255.6 L443.3 255.6 L442.1 255.5 L442.1 255.5 L442.0 255.5 L441.9 255.5 L441.0 255.5 L441.0 255.5 L440.6 255.5 L440.5 255.6 L440.2 255.7 L440.2 255.7 L439.9 255.9 L439.8 256.0 L439.6 256.3 L439.6 256.3 L439.5 256.6 L439.4 256.7 L439.4 257.1 L439.4 257.1 L439.3 281.7 L439.3 281.7 L438.0 298.1 L431.6 303.0 L428.5 302.2 L426.1 299.1 L426.1 299.1 L426.0 298.9 L425.9 298.9 L423.6 296.5 L423.6 296.5 L423.6 296.5 L422.1 292.7 L422.1 292.6 L421.9 292.4 L421.9 292.3 L421.7 292.1 L421.7 292.1 L419.5 289.9 L418.6 275.5 L418.6 275.4 L418.6 275.1 L418.5 275.1 L418.4 274.8 L418.4 274.7 L418.2 274.5 L418.2 274.4 L417.4 273.7 L417.4 273.7 L417.1 273.5 L417.0 273.4 L416.7 273.3 L416.7 273.3 L416.3 273.2 L416.3 273.2 L415.9 273.3 L415.9 273.3 L415.5 273.4 L415.5 273.4 L415.2 273.6 L415.2 273.7 L414.4 274.4 L414.3 274.5 L414.1 274.7 L414.1 274.8 L414.0 275.1 L413.9 275.1 L413.9 275.5 L413.9 275.5 L413.0 289.9 L413.0 289.9 L413.0 289.9 L410.6 293.0 L410.5 293.1 L408.3 294.7 L407.9 294.4 L407.8 294.4 L407.5 294.3 L407.4 294.3 L407.0 294.3 L406.9 294.3 L406.6 294.4 L406.5 294.4 L406.2 294.6 L406.1 294.7 L405.8 294.9 L405.8 295.0 L404.9 296.3 L402.7 295.6 L401.2 292.5 L401.1 292.5 L400.9 292.2 L400.9 292.2 L400.1 291.3 L400.1 291.3 L399.8 291.1 L399.7 291.0 L399.4 290.9 L399.4 290.9 L399.0 290.8 L398.9 290.8 L398.6 290.8 L398.5 290.9 L398.2 291.0 L398.2 291.0 L397.6 291.3 L397.6 291.3 L397.4 291.5 L397.3 291.5 L397.1 291.8 L397.1 291.8 L395.7 293.8 L393.5 293.0 L393.4 293.0 L391.1 291.5 L389.6 284.5 L389.6 284.4 L389.4 284.1 L389.4 284.1 L389.2 283.8 L389.2 283.8 L386.8 280.9 L386.8 280.9 L386.8 280.8 L385.6 274.3 L385.6 274.3 L385.5 274.0 L385.5 273.9 L385.4 273.7 L385.3 273.6 L385.1 273.4 L385.1 273.3 L384.8 273.2 L384.7 273.1 L384.4 273.0 L384.4 273.0 L383.0 272.7 L382.0 268.4 L382.0 268.3 L381.9 268.1 L381.9 268.0 L380.8 265.8 L380.8 265.8 L380.6 265.5 L380.5 265.4 L380.3 265.2 L380.2 265.1 L379.9 265.0 L379.8 264.9 L379.4 264.9 L379.3 264.9 L379.0 264.9 L378.9 265.0 L378.6 265.1 L378.5 265.2 L378.2 265.4 L378.2 265.4 L376.7 267.1 L376.7 267.1 L376.5 267.3 L376.5 267.4 L376.3 267.7 L376.3 267.7 L374.7 273.8 L374.7 273.8 L374.7 274.1 L374.7 274.1 L373.9 297.7 L373.9 297.8 L374.0 298.1 L374.0 298.2 L374.1 298.5 L374.1 298.5 L374.1 298.6 L374.0 298.6 L373.8 298.9 L373.8 299.0 L373.7 299.3 L373.7 299.3 L372.2 306.4 L370.1 306.7 L370.1 306.7 L370.0 306.7 L368.5 305.8 L368.5 305.8 L368.5 305.8 L368.2 305.3 L368.2 305.3 L368.0 305.1 L368.0 305.0 L367.7 304.8 L367.6 304.8 L367.3 304.7 L367.3 304.6 L366.9 304.6 L366.9 304.6 L366.5 304.6 L366.5 304.7 L366.2 304.8 L366.1 304.8 L365.8 305.0 L365.8 305.0 L365.6 305.3 L365.5 305.3 L364.9 306.3 L364.9 306.3 L364.8 306.6 L364.7 306.6 L364.7 306.9 L364.7 306.9 L363.1 316.2 L361.3 314.8 L360.5 306.9 L360.5 306.9 L360.4 306.5 L360.4 306.4 L360.2 306.0 L360.1 306.0 L359.8 305.6 L359.8 305.6 L359.5 305.3 L359.4 305.3 L359.1 305.1 L359.1 305.1 L358.7 305.1 L358.6 305.1 L358.3 305.1 L358.2 305.1 L357.9 305.2 L357.8 305.2 L357.6 305.4 L357.5 305.5 L357.3 305.7 L357.2 305.8 L357.1 306.1 L357.1 306.2 L355.5 310.9 L355.5 310.9 L353.1 315.7 L353.1 315.7 L353.0 316.1 L353.0 316.1 L351.4 324.9 L351.4 324.9 L351.4 325.0 L351.4 325.0 L350.7 333.1 L350.7 333.1 L350.7 333.4 L350.7 333.5 L350.7 333.5 L350.7 333.5 L350.7 333.5 L350.6 333.5 L350.6 333.5 L350.6 333.5 L350.5 333.5 L350.5 333.6 L350.5 333.6 L350.5 333.6 L350.5 333.6 L350.4 333.7 L350.4 333.7 L350.4 333.7 L350.4 333.7 L350.4 333.8 L350.3 333.8 L350.3 333.8 L350.3 333.8 L350.3 333.9 L350.3 333.9 L350.3 333.9 L350.3 334.0 L350.3 334.0 L350.3 334.0 L349.4 344.9 L347.8 351.0 L347.8 351.0 L347.8 351.0 L347.8 351.0 L347.8 351.1 L347.8 351.1 L347.8 351.1 L347.8 351.2 L347.8 351.2 L347.8 351.2 L347.8 351.2 L347.8 351.3 L347.8 351.3 L347.8 351.3 L347.9 351.4 L347.9 351.4 L347.9 351.4 L347.9 351.4 L347.9 351.5 L347.9 351.5 L348.0 351.5 L348.0 351.5 L345.1 352.9 L345.1 352.9 L344.9 353.1 L344.8 353.1 L344.6 353.3 L344.6 353.3 L340.6 358.0 L340.6 358.0 L340.6 358.1 L338.3 358.9 L336.0 357.8 L333.6 352.4 L333.6 352.4 L333.5 352.3 L333.5 352.3 L331.1 348.2 L331.1 348.1 L328.6 341.7 L328.6 341.6 L328.5 341.5 L328.5 341.5 L326.1 336.6 L326.1 336.5 L324.5 330.0 L324.5 329.9 L324.0 316.3 L324.0 316.3 L324.0 316.0 L323.9 315.9 L323.8 315.6 L323.8 315.5 L323.5 315.2 L323.5 315.2 L323.0 314.8 L323.0 314.7 L322.7 314.5 L322.6 314.5 L322.3 314.4 L322.2 314.3 L321.8 314.3 L321.7 314.3 L321.4 314.4 L321.3 314.5 L321.0 314.6 L320.9 314.7 L320.2 315.3 L320.1 315.3 L319.9 315.5 L319.9 315.6 L319.7 315.8 L319.7 315.9 L319.6 316.1 L319.6 316.2 L318.0 323.1 L315.9 324.6 L314.5 321.6 L314.5 321.6 L314.5 321.6 L314.0 308.1 L314.0 308.0 L314.0 307.7 L313.9 307.6 L313.8 307.3 L313.7 307.2 L313.5 306.9 L313.5 306.9 L312.7 306.3 L312.7 306.3 L312.4 306.1 L312.3 306.0 L312.0 305.9 L311.9 305.9 L311.5 305.9 L311.4 305.9 L311.1 306.0 L311.0 306.1 L310.7 306.3 L310.7 306.3 L309.9 306.9 L309.9 307.0 L309.7 307.2 L309.6 307.3 L309.5 307.6 L309.4 307.6 L309.4 307.9 L309.3 308.0 L308.0 319.9 L308.0 320.0 L305.5 331.5 L305.5 331.7 L303.3 336.0 L302.0 332.5 L302.0 332.5 L301.9 332.2 L301.9 332.2 L301.3 331.4 L301.3 331.4 L301.1 331.1 L301.0 331.1 L300.7 330.9 L300.6 330.8 L300.3 330.7 L300.2 330.7 L299.8 330.7 L299.7 330.7 L299.4 330.8 L299.3 330.9 L299.0 331.1 L298.9 331.1 L298.7 331.4 L298.7 331.4 L298.2 332.1 L298.2 332.1 L298.1 332.4 L298.0 332.4 L298.0 332.8 L298.0 332.8 L296.4 347.8 L293.5 346.5 L293.5 346.5 L293.5 346.4 L290.3 341.6 L290.3 341.6 L290.2 341.5 L290.2 341.5 L287.8 338.2 L287.7 338.1 L285.6 331.7 L285.6 331.6 L285.0 321.4 L285.0 321.4 L285.0 321.0 L284.9 320.9 L284.7 320.6 L284.7 320.5 L284.4 320.2 L284.4 320.2 L283.4 319.5 L283.4 319.5 L283.1 319.3 L283.0 319.3 L282.7 319.2 L282.7 319.2 L282.3 319.2 L282.3 319.2 L282.0 319.3 L281.9 319.3 L281.6 319.4 L281.6 319.4 L280.2 320.3 L280.2 320.4 L279.9 320.6 L279.8 320.7 L279.6 321.0 L279.6 321.1 L278.2 324.5 L277.0 323.2 L277.0 323.2 L277.0 323.1 L276.1 316.0 L276.1 315.9 L276.0 315.5 L276.0 315.5 L274.8 313.2 L274.8 313.2 L274.8 313.2 L274.4 298.8 L274.4 298.8 L274.4 298.5 L274.3 298.4 L274.2 298.1 L274.2 298.1 L273.5 296.7 L273.5 296.7 L273.3 296.4 L273.3 296.4 L273.0 296.1 L273.0 296.1 L272.7 296.0 L272.7 295.9 L272.1 295.7 L272.1 295.7 L271.7 295.6 L271.7 295.6 L271.3 295.6 L271.3 295.6 L270.9 295.7 L270.9 295.7 L270.3 295.9 L270.3 296.0 L270.0 296.1 L270.0 296.1 L269.7 296.4 L269.7 296.4 L269.5 296.7 L269.5 296.7 L268.8 298.1 L268.8 298.1 L268.7 298.4 L268.6 298.5 L268.6 298.8 L268.6 298.8 L268.2 312.3 L265.9 313.8 L265.9 313.8 L265.6 314.0 L265.6 314.1 L265.4 314.3 L265.4 314.4 L263.1 318.6 L263.1 318.7 L263.0 319.2 L263.0 319.2 L261.7 331.7 L260.6 342.0 L259.7 339.6 L259.7 339.6 L259.5 339.3 L259.4 339.2 L259.2 338.9 L259.1 338.9 L258.8 338.7 L258.8 338.7 L258.4 338.6 L258.3 338.6 L258.0 338.6 L257.9 338.6 L257.6 338.7 L257.5 338.7 L257.2 338.9 L257.2 339.0 L256.9 339.2 L256.9 339.3 L256.7 339.6 L256.7 339.6 L254.9 344.5 L252.8 343.1 L251.1 335.0 L251.1 334.9 L250.0 328.6 L250.0 328.5 L249.9 328.2 L249.8 328.1 L249.7 327.9 L249.6 327.8 L249.4 327.6 L249.3 327.5 L249.0 327.4 L249.0 327.3 L248.6 327.3 L248.6 327.3 L248.2 327.3 L248.2 327.3 L247.8 327.3 L247.8 327.4 L247.5 327.5 L247.4 327.6 L247.2 327.8 L247.2 327.8 L245.7 329.6 L245.7 329.6 L245.6 329.9 L245.5 329.9 L245.4 330.2 L245.4 330.2 L243.0 339.8 L243.0 339.9 L241.5 343.1 L241.5 343.1 L241.4 343.1 L239.4 344.5 L239.4 344.5 L239.2 344.7 L239.1 344.8 L238.9 345.0 L238.9 345.1 L238.8 345.3 L238.8 345.4 L236.4 353.1 L236.4 353.2 L234.3 357.5 L232.8 353.2 L232.8 353.2 L232.8 353.2 L232.8 353.2 L230.3 346.7 L230.3 346.6 L228.6 336.7 L228.6 336.7 L228.6 336.5 L228.6 336.5 L227.1 331.8 L227.0 331.8 L226.8 331.4 L226.8 331.4 L224.5 328.2 L224.4 328.1 L223.8 326.0 L223.8 326.0 L223.7 325.6 L223.7 325.6 L223.7 325.6 L223.7 325.6 L223.7 325.6 L223.8 325.6 L223.8 325.5 L223.8 325.5 L223.8 325.5 L223.8 325.5 L223.8 325.4 L223.9 325.4 L223.9 325.4 L223.9 325.3 L223.9 325.3 L223.9 325.3 L223.9 325.2 L223.9 325.2 L223.9 325.2 L223.9 325.1 L223.9 325.1 L223.9 325.1 L223.9 325.1 L223.9 325.0 L223.9 325.0 L223.9 325.0 L223.9 324.9 L223.1 322.3 L223.1 322.3 L223.1 322.3 L223.1 322.2 L223.1 322.2 L223.1 322.2 L223.1 322.2 L223.0 322.1 L223.0 322.1 L223.0 322.1 L223.0 322.1 L223.0 322.0 L222.9 322.0 L222.9 322.0 L222.9 322.0 L222.9 322.0 L222.8 321.9 L222.8 321.9 L222.8 321.9 L222.7 321.9 L222.7 321.9 L222.7 321.9 L222.6 321.9 L222.6 321.9 L222.6 321.9 L222.5 321.9 L222.5 321.9 L222.5 321.9 L222.5 321.9 L222.4 321.9 L222.4 321.9 L222.4 321.9 L222.3 321.9 L222.3 321.9 L222.3 321.9 L222.2 321.9 L222.2 321.9 L222.2 321.9 L222.1 322.0 L222.1 322.0 L222.1 322.0 L222.1 322.0 L222.0 322.0 L222.0 322.1 L222.0 322.1 L222.0 322.1 L222.0 322.1 L221.9 322.2 L221.9 322.2 L221.9 322.2 L221.9 322.2 L221.9 322.3 L220.9 324.8 L220.9 324.8 L220.9 324.8 L220.8 324.9 L220.8 324.9 L220.8 324.9 L220.8 325.0 L220.8 325.0 L220.8 325.0 L220.8 325.1 L220.8 325.1 L220.8 325.1 L220.8 325.2 L220.8 325.2 L220.8 325.2 L220.9 325.2 L220.9 325.3 L220.9 325.3 L220.9 325.3 L220.9 325.4 L220.9 325.4 L220.9 325.4 L221.0 325.4 L221.0 325.5 L221.0 325.5 L221.0 325.5 L221.0 325.5 L220.8 325.8 L220.8 325.9 L220.5 326.6 L220.5 326.6 L218.1 331.5 L218.1 331.5 L218.0 331.5 L215.8 332.9 L213.6 331.5 L212.0 325.0 L212.0 324.9 L211.7 322.9 L211.7 322.8 L211.6 322.5 L211.6 322.5 L211.6 322.5 L211.7 322.4 L211.7 322.4 L211.7 322.4 L211.7 322.4 L211.8 322.4 L211.8 322.3 L211.8 322.3 L211.8 322.3 L211.8 322.3 L211.9 322.2 L211.9 322.2 L211.9 322.2 L211.9 322.1 L211.9 322.1 L211.9 322.1 L211.9 322.1 L211.9 322.0 L211.9 322.0 L211.9 322.0 L211.9 321.9 L211.9 321.9 L211.9 321.9 L211.9 321.8 L211.9 321.8 L211.3 317.4 L211.3 317.4 L211.3 317.4 L211.3 317.3 L211.3 317.3 L211.3 317.3 L211.3 317.2 L211.3 317.2 L211.3 317.2 L211.3 317.2 L211.2 317.1 L211.2 317.1 L211.2 317.1 L211.2 317.1 L211.1 317.0 L211.1 317.0 L211.1 317.0 L211.1 317.0 L211.0 317.0 L211.0 316.9 L211.0 316.9 L211.0 316.9 L210.9 316.9 L210.9 316.9 L210.9 316.9 L210.8 316.9 L210.8 316.9 L210.8 316.9 L210.7 316.9 L210.7 316.9 L210.7 316.9 L210.6 316.9 L210.6 316.9 L210.6 316.9 L210.6 316.9 L210.5 316.9 L210.5 316.9 L210.5 316.9 L210.4 316.9 L210.4 316.9 L210.4 316.9 L210.3 317.0 L210.3 317.0 L210.3 317.0 L210.3 317.0 L210.2 317.0 L210.2 317.1 L210.2 317.1 L209.5 317.9 L209.5 317.9 L209.5 317.9 L209.5 317.9 L209.4 318.0 L209.4 318.0 L209.4 318.0 L209.4 318.0 L209.4 318.1 L209.4 318.1 L209.4 318.1 L209.4 318.1 L208.5 321.6 L208.5 321.6 L208.5 321.7 L208.5 321.7 L208.5 321.7 L208.5 321.8 L208.5 321.8 L208.5 321.8 L208.5 321.9 L208.5 321.9 L208.5 321.9 L208.5 321.9 L208.5 322.0 L208.5 322.0 L208.5 322.0 L208.5 322.1 L208.5 322.1 L208.6 322.1 L208.6 322.1 L208.6 322.2 L208.6 322.2 L208.6 322.2 L208.7 322.2 L208.7 322.3 L208.7 322.3 L208.7 322.3 L208.7 322.3 L208.6 322.6 L208.6 322.7 L208.2 324.0 L207.8 322.9 L207.8 322.9 L206.1 318.3 L206.1 318.2 L205.3 313.9 L204.1 307.5 L204.1 307.4 L203.5 299.1 L203.5 299.0 L203.5 298.9 L203.5 298.9 L202.9 296.0 L202.9 295.9 L202.6 288.2 L202.6 288.1 L202.5 287.8 L202.5 287.7 L201.9 285.7 L201.9 285.7 L201.7 285.4 L201.7 285.4 L201.5 285.1 L201.5 285.1 L201.3 284.9 L201.2 284.8 L200.9 284.7 L200.9 284.7 L200.2 284.5 L200.2 284.5 L199.9 284.4 L199.8 284.4 L199.6 284.4 L199.5 284.4 L199.2 284.5 L199.2 284.5 L198.5 284.7 L198.4 284.7 L198.1 284.9 L198.0 285.0 L197.8 285.2 L197.7 285.3 L197.5 285.6 L197.5 285.7 L196.7 287.9 L196.7 287.9 L196.7 287.9 L196.7 287.9 L195.6 291.8 L195.5 291.8 L195.5 292.1 L195.5 292.1 L195.1 300.0 L193.9 319.9 L193.9 319.9 L193.9 319.9 L193.1 321.5 L193.1 321.5 L193.0 321.5 L189.9 323.9 L189.9 323.9 L189.9 323.9 L186.0 324.7 L184.1 317.9 L184.1 317.8 L184.0 317.5 L184.0 317.5 L183.8 317.2 L183.7 317.2 L183.5 317.0 L183.4 316.9 L183.1 316.8 L183.1 316.8 L182.8 316.7 L182.7 316.7 L182.7 316.7 L180.3 311.6 L180.3 311.6 L178.7 305.2 L178.6 305.2 L178.6 304.9 L178.5 304.9 L178.4 304.6 L178.4 304.6 L176.1 301.6 L176.1 301.6 L176.1 301.6 L174.5 288.4 L174.5 288.4 L174.5 288.1 L174.5 288.1 L172.0 280.0 L172.0 279.9 L172.0 279.9 L172.0 279.9 L169.5 273.3 L169.5 273.2 L167.8 260.0 L167.8 260.0 L167.0 250.1 L167.0 250.1 L166.9 249.8 L166.9 249.8 L165.3 244.9 L165.3 244.9 L163.3 236.7 L163.3 236.7 L163.3 236.6 L163.3 236.6 L162.1 232.9 L162.1 232.9 L162.0 232.6 L162.0 232.5 L161.7 232.3 L161.7 232.2 L161.4 232.0 L161.4 232.0 L161.2 231.9 L161.2 231.9 L160.9 231.8 L160.8 231.7 L160.5 231.7 L160.5 231.7 L160.1 231.7 L160.1 231.7 L159.8 231.8 L159.7 231.9 L159.4 232.0 L159.4 232.1 L159.2 232.3 L159.1 232.4 L159.0 232.7 L158.9 232.7 L158.9 233.0 L158.9 233.1 L158.5 235.7 L158.1 235.7 L157.6 215.0 L157.6 215.0 L157.6 214.9 L157.6 214.9 L157.0 208.5 L157.0 208.4 L156.9 208.0 L156.9 208.0 L155.7 205.2 L155.7 205.1 L155.5 204.9 L155.5 204.8 L155.3 204.6 L155.3 204.6 L154.3 203.8 L154.3 203.8 L154.0 203.6 L153.9 203.5 L153.6 203.4 L153.5 203.4 L153.1 203.4 L153.0 203.4 L152.7 203.5 L152.6 203.6 L152.3 203.8 L152.3 203.8 L151.6 204.4 L151.5 204.4 L151.3 204.7 L151.2 204.8 L151.1 205.1 L151.1 205.2 L151.0 205.6 L151.0 205.6 L150.9 271.9 L150.9 271.9 L150.9 272.0 L149.8 274.3 L148.6 271.9 L148.6 271.9 L148.6 271.9 L147.3 252.1 L147.3 252.0 L147.3 251.7 L147.2 251.6 L147.0 251.3 L147.0 251.2 L146.7 250.9 L146.7 250.9 L146.0 250.4 L146.0 250.4 L145.7 250.2 L145.6 250.2 L145.3 250.1 L145.2 250.1 L144.8 250.1 L144.7 250.1 L144.4 250.2 L144.3 250.2 L144.1 250.4 L144.0 250.4 L143.5 250.9 L143.4 250.9 L143.2 251.2 L143.1 251.3 L143.0 251.6 L143.0 251.7 L142.9 252.1 L142.9 252.1 L142.7 273.0 L142.7 273.0 L141.7 285.0 L141.7 285.0 L139.8 298.5 L138.8 297.8 L138.7 297.7 L137.9 296.7 L137.9 296.7 L137.6 296.4 L137.5 296.4 L137.2 296.2 L137.2 296.1 L136.8 296.1 L136.7 296.1 L136.4 296.1 L136.3 296.1 L135.9 296.2 L135.9 296.2 L135.1 296.6 L135.0 296.7 L134.7 296.9 L134.6 296.9 L133.1 298.5 L131.4 295.1 L131.3 295.0 L131.1 294.7 L131.1 294.6 L130.0 293.5 L129.9 293.5 L129.7 293.3 L129.6 293.3 L129.2 293.1 L129.2 293.1 L128.8 293.1 L128.7 293.1 L128.4 293.1 L128.3 293.2 L128.0 293.3 L127.9 293.3 L126.3 294.4 L126.3 294.4 L126.0 294.7 L126.0 294.8 L125.8 295.1 L125.7 295.2 L125.6 295.5 L125.6 295.6 L124.7 304.7 L124.7 304.7 L124.7 304.7 L121.1 309.3 L120.8 308.0 L120.8 307.9 L120.3 288.5 L120.3 288.5 L120.3 288.1 L120.2 288.1 L120.1 287.8 L120.1 287.7 L119.9 287.4 L119.8 287.4 L119.6 287.2 L119.6 287.2 L119.3 287.0 L119.3 286.9 L119.0 286.8 L118.9 286.8 L118.5 286.7 L118.5 286.7 L118.1 286.8 L118.0 286.8 L117.7 286.9 L117.7 287.0 L117.4 287.2 L117.4 287.2 L117.2 287.4 L117.1 287.4 L116.9 287.7 L116.9 287.8 L116.8 288.1 L116.7 288.2 L116.7 288.5 L116.7 288.5 L116.2 311.4 L114.5 309.8 L114.5 309.8 L114.4 309.8 L112.3 304.8 L112.3 304.8 L112.2 304.5 L112.2 304.5 L110.3 301.9 L110.3 301.9 L110.2 301.8 L110.2 301.8 L108.0 299.2 L108.0 299.1 L107.8 299.0 L107.8 299.0 L107.9 299.0 L107.9 298.9 L107.9 298.9 L107.9 298.9 L107.9 298.8 L107.9 298.8 L107.9 298.8 L107.9 298.8 L108.0 298.7 L108.0 298.7 L108.0 298.7 L108.0 298.6 L108.0 298.6 L108.0 298.6 L108.0 298.5 L107.9 298.5 L107.9 298.5 L107.9 298.4 L107.9 298.4 L107.9 298.4 L107.9 298.3 L107.9 298.3 L106.1 294.7 L106.1 294.7 L106.1 294.7 L106.0 294.6 L106.0 294.6 L106.0 294.6 L106.0 294.6 L106.0 294.5 L105.9 294.5 L105.9 294.5 L105.9 294.5 L105.9 294.5 L105.8 294.4 L105.8 294.4 L105.8 294.4 L105.7 294.4 L105.7 294.4 L105.7 294.4 L105.7 294.4 L105.6 294.4 L105.6 294.4 L105.6 294.4 L105.5 294.4 L105.5 294.4 L105.5 294.4 L105.4 294.4 L105.4 294.4 L105.4 294.4 L105.3 294.4 L105.3 294.4 L105.3 294.4 L105.2 294.4 L105.2 294.4 L105.2 294.4 L105.2 294.4 L105.1 294.5 L105.1 294.5 L105.1 294.5 L105.1 294.5 L105.0 294.5 L105.0 294.6 L105.0 294.6 L105.0 294.6 L105.0 294.6 L104.9 294.7 L104.9 294.7 L104.9 294.7 L104.9 294.8 L104.9 294.8 L104.9 294.8 L104.9 294.9 L104.9 294.9 L104.9 294.9 L104.9 295.0 L104.9 295.0 L104.9 295.0 L104.9 299.2 L104.9 299.2 L104.9 299.2 L104.9 299.3 L104.9 299.3 L104.9 299.3 L104.9 299.4 L104.9 299.4 L104.9 299.4 L104.9 299.5 L104.9 299.5 L104.9 299.5 L105.0 299.5 L105.0 299.6 L105.0 299.6 L105.0 299.6 L105.0 299.6 L105.1 299.7 L105.1 299.7 L105.1 299.7 L105.1 299.7 L105.2 299.7 L105.2 299.8 L105.2 299.8 L105.2 299.8 L105.3 299.8Z"/>
<text class="l" x="623.5" y="319.3" fill="#7cc1e8" stroke="#7cc1e8" textLength="60.2" lengthAdjust="spacingAndGlyphs">AUDUSD</text>
<text class="l" x="623.5" y="339.3" fill="#12284a" stroke="#12284a" textLength="59.9" lengthAdjust="spacingAndGlyphs">CADUSD</text>
<text class="s" x="40.6" y="484.9" textLength="225.5" lengthAdjust="spacingAndGlyphs">Source: Quikstrike (<tspan fill="#66bbe8">AUU_30</tspan> and <tspan fill="#0a73bb">CDU_30</tspan>)</text>
</svg>
</body></html>
